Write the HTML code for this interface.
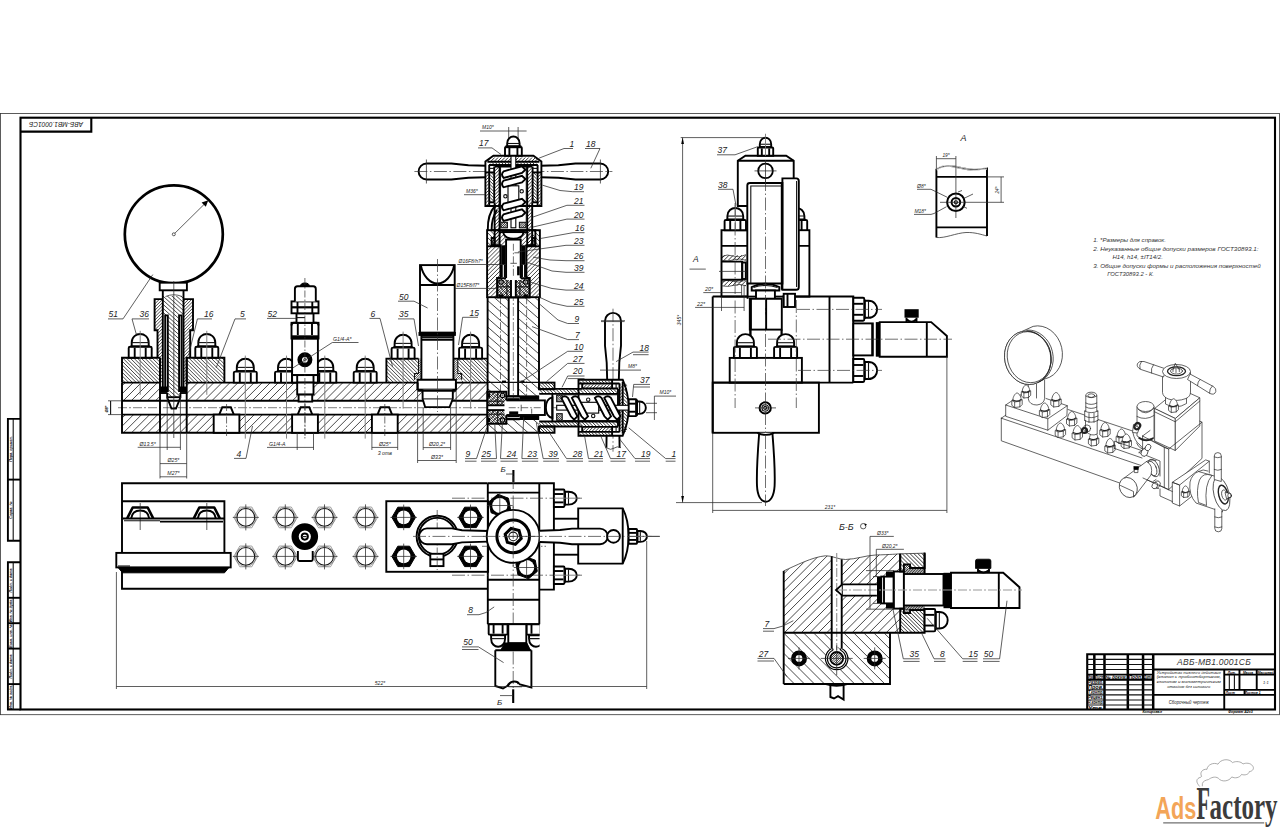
<!DOCTYPE html>
<html lang="ru"><head><meta charset="utf-8"><title>АВБ-МВ1.0001СБ Сборочный чертеж</title>
<style>
html,body{margin:0;padding:0;background:#fff;}
body{width:1280px;height:828px;overflow:hidden;font-family:"Liberation Sans",sans-serif;}
svg{display:block;position:absolute;left:0;top:0}
path,rect,circle,ellipse{fill:none;stroke:#000;stroke-linecap:butt;stroke-linejoin:miter}
.k2{stroke-width:2.1}
.k3{stroke-width:2.5}
.k{stroke-width:1.9}
.kr{stroke-width:1.9;stroke-linecap:round;stroke-linejoin:round}
.m{stroke-width:1.1;stroke:#111}
.t{stroke-width:0.75;stroke:#2a2a2a}
.tc{stroke-width:0.9;stroke:#777}
.t2{stroke-width:0.8;stroke:#333}
.tg2{stroke-width:0.6;stroke:#666}
.h{stroke-width:0.8;stroke:#1a1a1a}
.hd{stroke-width:0.85;stroke:#111}
.c{stroke-width:0.7;stroke:#333;stroke-dasharray:13 2.5 1.5 2.5}
.cg{stroke-width:1.2;stroke:#999;stroke-dasharray:9 2 2 2}
.cs{stroke-width:0.7;stroke:#333;stroke-dasharray:7 2 1.5 2}
.f{fill:#000;stroke:none}
.w{fill:#fff;stroke:none}
.kw{fill:#fff;stroke-width:1.9}
.mw{fill:#fff;stroke-width:1.1}
.tw{fill:#fff;stroke-width:0.6;stroke:#333}
.iso{stroke-width:0.7;stroke:#222;stroke-linejoin:round;stroke-linecap:round}
.isow{stroke-width:0.7;stroke:#222;fill:#fff;stroke-linejoin:round}
text{font-family:"Liberation Sans",sans-serif;font-style:italic;fill:#222;stroke:none}
.txb{fill:#000;font-weight:bold}
.tg{fill:#555}
.tn{fill:#333}
.tl{fill:#333;letter-spacing:.3px}
.lg{stroke:#8a8a8a;stroke-width:0.7}
.ul{stroke:#707070;stroke-width:1.2}
</style></head><body>
<svg width="1280" height="828" viewBox="0 0 1280 828">
<g id="frame">
<rect class="t2" x="0.4" y="113.4" width="1279.2" height="601.3"/>
<rect class="k2" x="20.5" y="117.7" width="1254.5" height="591.8"/>
<path class="k2" d="M20.5 131.6L91.3 131.6L91.3 117.7"/>
<text class="tx" x="56" y="127.2" font-size="7" text-anchor="middle" transform="rotate(180 56 124.7)" textLength="54" lengthAdjust="spacingAndGlyphs">АВБ-МВ1.0001СБ</text>
<path class="k" d="M20.5 418.9L7.9 418.9L7.9 540.7L20.5 540.7"/>
<path class="m" d="M13.2 418.9L13.2 540.7"/>
<path class="k" d="M7.9 479.6L20.5 479.6"/>
<path class="k" d="M20.5 562.3L7.9 562.3L7.9 709.5L20.5 709.5"/>
<path class="m" d="M13.2 562.3L13.2 709.5"/>
<path class="k" d="M7.9 597.8L20.5 597.8"/>
<path class="k" d="M7.9 623.2L20.5 623.2"/>
<path class="k" d="M7.9 648.6L20.5 648.6"/>
<path class="k" d="M7.9 684.1L20.5 684.1"/>
<text class="txb" x="12" y="449" font-size="3.6" text-anchor="middle" transform="rotate(-90 12 449)">Перв. примен.</text>
<text class="txb" x="12" y="510" font-size="3.6" text-anchor="middle" transform="rotate(-90 12 510)">Справ. №</text>
<text class="txb" x="12" y="580.5" font-size="3.6" text-anchor="middle" transform="rotate(-90 12 580.5)">Подп. и дата</text>
<text class="txb" x="12" y="610.5" font-size="3.6" text-anchor="middle" transform="rotate(-90 12 610.5)">Инв. № дубл.</text>
<text class="txb" x="12" y="636" font-size="3.6" text-anchor="middle" transform="rotate(-90 12 636)">Взам. инв. №</text>
<text class="txb" x="12" y="666.5" font-size="3.6" text-anchor="middle" transform="rotate(-90 12 666.5)">Подп. и дата</text>
<text class="txb" x="12" y="697" font-size="3.6" text-anchor="middle" transform="rotate(-90 12 697)">Инв. № подл.</text>
<path class="k2" d="M1087.22 709.5L1087.22 654.3L1275 654.3"/>
<path class="k3" d="M1094.33 654.3L1094.33 679.675"/>
<path class="k3" d="M1104.48 654.3L1104.48 679.675"/>
<path class="k3" d="M1127.82 654.3L1127.82 709.5"/>
<path class="k3" d="M1143.05 654.3L1143.05 709.5"/>
<path class="k3" d="M1153.2 654.3L1153.2 709.5"/>
<path class="k3" d="M1104.48 679.675L1104.48 709.5"/>
<path class="k" d="M1224.25 669.525L1224.25 709.5"/>
<path class="m" d="M1087.22 659.375L1153.2 659.375"/>
<path class="m" d="M1087.22 664.45L1153.2 664.45"/>
<path class="m" d="M1087.22 669.525L1153.2 669.525"/>
<path class="k" d="M1087.22 674.6L1153.2 674.6"/>
<path class="k" d="M1087.22 679.675L1153.2 679.675"/>
<path class="m" d="M1087.22 684.75L1153.2 684.75"/>
<path class="m" d="M1087.22 689.825L1153.2 689.825"/>
<path class="m" d="M1087.22 694.9L1153.2 694.9"/>
<path class="m" d="M1087.22 699.975L1153.2 699.975"/>
<path class="m" d="M1087.22 705.05L1153.2 705.05"/>
<path class="k" d="M1153.2 669.525L1275 669.525"/>
<path class="k" d="M1153.2 694.9L1275 694.9"/>
<path class="k" d="M1224.25 674.6L1275 674.6"/>
<path class="k" d="M1224.25 689.825L1275 689.825"/>
<path class="k" d="M1239.47 669.525L1239.47 689.825"/>
<path class="k" d="M1256.73 669.525L1256.73 689.825"/>
<path class="m" d="M1229.32 674.6L1229.32 689.825"/>
<path class="m" d="M1234.4 674.6L1234.4 689.825"/>
<path class="k" d="M1244.55 689.825L1244.55 694.9"/>
<text class="tl" x="1214.1" y="665.262" font-size="9.6" text-anchor="middle" textLength="74" lengthAdjust="spacingAndGlyphs">АВБ-МВ1.0001СБ</text>
<text class="tx" x="1188.72" y="673.889" font-size="4.4" text-anchor="middle" textLength="64" lengthAdjust="spacingAndGlyphs">Устройство нижнего действия</text>
<text class="tx" x="1188.72" y="678.254" font-size="4.4" text-anchor="middle" textLength="64" lengthAdjust="spacingAndGlyphs">(клапан с пробоотборником,</text>
<text class="tx" x="1188.72" y="682.618" font-size="4.4" text-anchor="middle" textLength="64" lengthAdjust="spacingAndGlyphs">клапаном и манометрическим</text>
<text class="tx" x="1188.72" y="687.795" font-size="4.4" text-anchor="middle" textLength="43" lengthAdjust="spacingAndGlyphs">отводом без силового</text>
<text class="tx" x="1188.72" y="703.832" font-size="4.6" text-anchor="middle" textLength="40" lengthAdjust="spacingAndGlyphs">Сборочный чертеж</text>
<text class="txb" x="1090.78" y="678.964" font-size="4.8" text-anchor="middle" textLength="6.2" lengthAdjust="spacingAndGlyphs">Изм.</text>
<text class="txb" x="1099.4" y="678.964" font-size="4.8" text-anchor="middle" textLength="9" lengthAdjust="spacingAndGlyphs">Лист</text>
<text class="txb" x="1116.15" y="678.964" font-size="4.8" text-anchor="middle" textLength="21" lengthAdjust="spacingAndGlyphs">№ докум.</text>
<text class="txb" x="1135.44" y="678.964" font-size="4.8" text-anchor="middle" textLength="13.5" lengthAdjust="spacingAndGlyphs">Подп.</text>
<text class="txb" x="1148.12" y="678.964" font-size="4.8" text-anchor="middle" textLength="9" lengthAdjust="spacingAndGlyphs">Дата</text>
<text class="txb" x="1088.04" y="684.141" font-size="5" text-anchor="start" textLength="15.5" lengthAdjust="spacingAndGlyphs">Разраб.</text>
<text class="txb" x="1088.04" y="689.216" font-size="5" text-anchor="start" textLength="15.5" lengthAdjust="spacingAndGlyphs">Пров.</text>
<text class="txb" x="1088.04" y="694.291" font-size="5" text-anchor="start" textLength="15.5" lengthAdjust="spacingAndGlyphs">Т.контр.</text>
<text class="txb" x="1088.04" y="699.366" font-size="5" text-anchor="start" textLength="15.5" lengthAdjust="spacingAndGlyphs">Реценз.</text>
<text class="txb" x="1088.04" y="704.441" font-size="5" text-anchor="start" textLength="15.5" lengthAdjust="spacingAndGlyphs">Н.контр.</text>
<text class="txb" x="1088.04" y="709.516" font-size="5" text-anchor="start" textLength="15.5" lengthAdjust="spacingAndGlyphs">Утв.</text>
<text class="txb" x="1231.86" y="673.585" font-size="3.3" text-anchor="middle">Лит.</text>
<text class="txb" x="1248.1" y="673.585" font-size="3.3" text-anchor="middle">Масса</text>
<text class="txb" x="1265.86" y="673.585" font-size="3.3" text-anchor="middle">Масштаб</text>
<text class="tx" x="1265.86" y="683.735" font-size="4" text-anchor="middle">1:1</text>
<text class="txb" x="1230.34" y="693.885" font-size="3.3" text-anchor="middle">Лист</text>
<text class="txb" x="1252.67" y="693.885" font-size="3.3" text-anchor="middle">Листов   1</text>
<text class="txb" x="1152.18" y="713.474" font-size="3.6" text-anchor="middle">Копировал</text>
<text class="txb" x="1240.49" y="713.474" font-size="3.6" text-anchor="middle">Формат А2х3</text>
</g>
<g id="v1">
<clipPath id="c1"><path clip-rule="evenodd" d="M122 382.6L487.6 382.6L487.6 400.8L122 400.8ZM160 382.6L186.7 382.6L186.7 400.8L160 400.8ZM297.2 382.6L313.5 382.6L313.5 400.8L297.2 400.8ZM417.6 382.6L455.9 382.6L455.9 390L452.8 390L452.8 400.8L422.6 400.8L422.6 390L417.6 390Z"/></clipPath>
<path class="h" clip-path="url(#c1)" d="M39.3 387.9L301.0 126.2M43.4 391.9L305.0 130.3M47.4 396.0L309.1 134.3M51.4 400.0L313.1 138.3M55.5 404.0L317.1 142.4M59.5 408.1L321.2 146.4M63.5 412.1L325.2 150.4M67.5 416.1L329.2 154.4M71.6 420.1L333.2 158.5M75.6 424.2L337.3 162.5M79.6 428.2L341.3 166.5M83.7 432.2L345.3 170.6M87.7 436.3L349.4 174.6M91.7 440.3L353.4 178.6M95.8 444.3L357.4 182.7M99.8 448.4L361.5 186.7M103.8 452.4L365.5 190.7M107.9 456.4L369.5 194.8M111.9 460.4L373.5 198.8M115.9 464.5L377.6 202.8M119.9 468.5L381.6 206.8M124.0 472.5L385.6 210.9M128.0 476.6L389.7 214.9M132.0 480.6L393.7 218.9M136.1 484.6L397.7 223.0M140.1 488.7L401.8 227.0M144.1 492.7L405.8 231.0M148.2 496.7L409.8 235.1M152.2 500.8L413.9 239.1M156.2 504.8L417.9 243.1M160.2 508.8L421.9 247.1M164.3 512.8L425.9 251.2M168.3 516.9L430.0 255.2M172.3 520.9L434.0 259.2M176.4 524.9L438.0 263.3M180.4 529.0L442.1 267.3M184.4 533.0L446.1 271.3M188.5 537.0L450.1 275.4M192.5 541.1L454.2 279.4M196.5 545.1L458.2 283.4M200.6 549.1L462.2 287.5M204.6 553.2L466.3 291.5M208.6 557.2L470.3 295.5M212.6 561.2L474.3 299.5M216.7 565.2L478.3 303.6M220.7 569.3L482.4 307.6M224.7 573.3L486.4 311.6M228.8 577.3L490.4 315.7M232.8 581.4L494.5 319.7M236.8 585.4L498.5 323.7M240.9 589.4L502.5 327.8M244.9 593.5L506.6 331.8M248.9 597.5L510.6 335.8M253.0 601.5L514.6 339.9M257.0 605.5L518.6 343.9M261.0 609.6L522.7 347.9M265.0 613.6L526.7 351.9M269.1 617.6L530.7 356.0M273.1 621.7L534.8 360.0M277.1 625.7L538.8 364.0M281.2 629.7L542.8 368.1M285.2 633.8L546.9 372.1M289.2 637.8L550.9 376.1M293.3 641.8L554.9 380.2M297.3 645.9L559.0 384.2M301.3 649.9L563.0 388.2M305.3 653.9L567.0 392.2"/>
<clipPath id="c2"><path clip-rule="evenodd" d="M122 414.6L487.6 414.6L487.6 432.8L122 432.8ZM213.7 414.6L239.4 414.6L239.4 432.8L213.7 432.8ZM292.1 414.6L317.9 414.6L317.9 432.8L292.1 432.8ZM371.9 414.6L397.7 414.6L397.7 432.8L371.9 432.8Z"/></clipPath>
<path class="h" clip-path="url(#c2)" d="M39.5 420.0L301.1 158.4M43.5 424.1L305.2 162.4M47.5 428.1L309.2 166.4M51.5 432.1L313.2 170.4M55.6 436.1L317.2 174.5M59.6 440.2L321.3 178.5M63.6 444.2L325.3 182.5M67.7 448.2L329.3 186.6M71.7 452.3L333.4 190.6M75.7 456.3L337.4 194.6M79.8 460.3L341.4 198.7M83.8 464.4L345.5 202.7M87.8 468.4L349.5 206.7M91.9 472.4L353.5 210.8M95.9 476.4L357.5 214.8M99.9 480.5L361.6 218.8M103.9 484.5L365.6 222.8M108.0 488.5L369.6 226.9M112.0 492.6L373.7 230.9M116.0 496.6L377.7 234.9M120.1 500.6L381.7 239.0M124.1 504.7L385.8 243.0M128.1 508.7L389.8 247.0M132.2 512.7L393.8 251.1M136.2 516.8L397.9 255.1M140.2 520.8L401.9 259.1M144.2 524.8L405.9 263.1M148.3 528.8L409.9 267.2M152.3 532.9L414.0 271.2M156.3 536.9L418.0 275.2M160.4 540.9L422.0 279.3M164.4 545.0L426.1 283.3M168.4 549.0L430.1 287.3M172.5 553.0L434.1 291.4M176.5 557.1L438.2 295.4M180.5 561.1L442.2 299.4M184.6 565.1L446.2 303.5M188.6 569.2L450.3 307.5M192.6 573.2L454.3 311.5M196.6 577.2L458.3 315.5M200.7 581.2L462.3 319.6M204.7 585.3L466.4 323.6M208.7 589.3L470.4 327.6M212.8 593.3L474.4 331.7M216.8 597.4L478.5 335.7M220.8 601.4L482.5 339.7M224.9 605.4L486.5 343.8M228.9 609.5L490.6 347.8M232.9 613.5L494.6 351.8M237.0 617.5L498.6 355.9M241.0 621.5L502.6 359.9M245.0 625.6L506.7 363.9M249.0 629.6L510.7 367.9M253.1 633.6L514.7 372.0M257.1 637.7L518.8 376.0M261.1 641.7L522.8 380.0M265.2 645.7L526.8 384.1M269.2 649.8L530.9 388.1M273.2 653.8L534.9 392.1M277.3 657.8L538.9 396.2M281.3 661.9L543.0 400.2M285.3 665.9L547.0 404.2M289.3 669.9L551.0 408.2M293.4 673.9L555.0 412.3M297.4 678.0L559.1 416.3M301.4 682.0L563.1 420.3M305.5 686.0L567.1 424.4"/>
<clipPath id="c3"><path clip-rule="evenodd" d="M122 357.8L160 357.8L160 382.6L122 382.6Z"/></clipPath>
<path class="h" clip-path="url(#c3)" d="M142.5 333.7L177.5 368.7M140.7 335.6L175.6 370.5M138.9 337.4L173.8 372.3M137.0 339.3L171.9 374.2M135.2 341.1L170.1 376.0M133.3 342.9L168.3 377.9M131.5 344.8L166.4 379.7M129.7 346.6L164.6 381.5M127.8 348.5L162.7 383.4M126.0 350.3L160.9 385.2M124.2 352.1L159.1 387.0M122.3 354.0L157.2 388.9M120.5 355.8L155.4 390.7M118.6 357.6L153.6 392.6M116.8 359.5L151.7 394.4M115.0 361.3L149.9 396.2M113.1 363.2L148.0 398.1M111.3 365.0L146.2 399.9M109.4 366.8L144.4 401.8M107.6 368.7L142.5 403.6M105.8 370.5L140.7 405.4"/>
<clipPath id="c4"><path clip-rule="evenodd" d="M186.7 357.8L224.4 357.8L224.4 382.6L186.7 382.6Z"/></clipPath>
<path class="h" clip-path="url(#c4)" d="M206.2 334.9L240.9 369.6M204.3 336.7L239.1 371.4M202.5 338.5L237.2 373.3M200.6 340.4L235.4 375.1M198.8 342.2L233.5 376.9M197.0 344.0L231.7 378.8M195.1 345.9L229.9 380.6M193.3 347.7L228.0 382.5M191.5 349.6L226.2 384.3M189.6 351.4L224.4 386.1M187.8 353.2L222.5 388.0M185.9 355.1L220.7 389.8M184.1 356.9L218.8 391.7M182.3 358.8L217.0 393.5M180.4 360.6L215.2 395.3M178.6 362.4L213.3 397.2M176.7 364.3L211.5 399.0M174.9 366.1L209.6 400.8M173.1 367.9L207.8 402.7M171.2 369.8L206.0 404.5M169.4 371.6L204.1 406.4"/>
<clipPath id="c5"><path clip-rule="evenodd" d="M386.4 358.6L418.5 358.6L418.5 373.5L414.5 373.5L414.5 382.6L386.4 382.6Z"/></clipPath>
<path class="h" clip-path="url(#c5)" d="M404.0 337.8L435.2 369.0M402.2 339.7L433.4 370.9M400.4 341.5L431.5 372.7M398.5 343.4L429.7 374.5M396.7 345.2L427.8 376.4M394.8 347.0L426.0 378.2M393.0 348.9L424.2 380.0M391.2 350.7L422.3 381.9M389.3 352.6L420.5 383.7M387.5 354.4L418.7 385.6M385.6 356.2L416.8 387.4M383.8 358.1L415.0 389.2M382.0 359.9L413.1 391.1M380.1 361.7L411.3 392.9M378.3 363.6L409.5 394.8M376.5 365.4L407.6 396.6M374.6 367.3L405.8 398.4M372.8 369.1L403.9 400.3M370.9 370.9L402.1 402.1"/>
<clipPath id="c6"><path clip-rule="evenodd" d="M457.8 358.6L487.6 358.6L487.6 382.6L461.6 382.6L461.6 373.5L457.8 373.5Z"/></clipPath>
<path class="h" clip-path="url(#c6)" d="M472.9 340.5L502.8 370.4M471.1 342.4L500.9 372.2M469.2 344.2L499.1 374.1M467.4 346.0L497.3 375.9M465.5 347.9L495.4 377.8M463.7 349.7L493.6 379.6M461.9 351.6L491.7 381.4M460.0 353.4L489.9 383.3M458.2 355.2L488.1 385.1M456.3 357.1L486.2 387.0M454.5 358.9L484.4 388.8M452.7 360.7L482.6 390.6M450.8 362.6L480.7 392.5M449.0 364.4L478.9 394.3M447.2 366.3L477.0 396.1M445.3 368.1L475.2 398.0M443.5 369.9L473.4 399.8M441.6 371.8L471.5 401.7"/>
<clipPath id="c7"><path clip-rule="evenodd" d="M418.5 358.6L421.4 358.6L421.4 379.8L414.5 379.8L414.5 373.5L418.5 373.5Z"/></clipPath>
<path class="h" clip-path="url(#c7)" d="M398.6 368.5L417.2 349.9M399.7 369.6L418.3 351.0M400.9 370.7L419.5 352.1M402.0 371.9L420.6 353.3M403.1 373.0L421.7 354.4M404.3 374.1L422.9 355.5M405.4 375.2L424.0 356.7M406.5 376.4L425.1 357.8M407.7 377.5L426.3 358.9M408.8 378.6L427.4 360.0M409.9 379.8L428.5 361.2M411.1 380.9L429.7 362.3M412.2 382.0L430.8 363.4M413.3 383.2L431.9 364.6M414.5 384.3L433.0 365.7M415.6 385.4L434.2 366.8M416.7 386.6L435.3 368.0M417.8 387.7L436.4 369.1M419.0 388.8L437.6 370.2"/>
<clipPath id="c8"><path clip-rule="evenodd" d="M453.4 358.6L457.8 358.6L457.8 373.5L461.6 373.5L461.6 379.8L453.4 379.8Z"/></clipPath>
<path class="h" clip-path="url(#c8)" d="M437.5 368.1L456.4 349.2M438.6 369.2L457.5 350.3M439.7 370.3L458.6 351.4M440.9 371.5L459.8 352.6M442.0 372.6L460.9 353.7M443.1 373.7L462.0 354.8M444.3 374.9L463.2 356.0M445.4 376.0L464.3 357.1M446.5 377.1L465.4 358.2M447.6 378.3L466.6 359.3M448.8 379.4L467.7 360.5M449.9 380.5L468.8 361.6M451.0 381.6L469.9 362.7M452.2 382.8L471.1 363.9M453.3 383.9L472.2 365.0M454.4 385.0L473.3 366.1M455.6 386.2L474.5 367.3M456.7 387.3L475.6 368.4M457.8 388.4L476.7 369.5"/>
<path class="cg" d="M118 407.7L640 407.7"/>
<path class="k" d="M487.6 432.8L122 432.8L122 382.6"/>
<path class="k" d="M122 400.8L487.6 400.8"/>
<path class="k" d="M122 414.6L487.6 414.6"/>
<path class="k" d="M122 382.6L160 382.6"/>
<path class="k" d="M186.7 382.6L417.6 382.6"/>
<path class="k" d="M455.9 382.6L487.6 382.6"/>
<rect class="kw" x="213.7" y="414.6" width="25.7" height="18.2"/>
<path class="k" d="M219.25 414.6L222.25 407.3L230.85 407.3L233.85 414.6"/>
<path class="cs" d="M226.55 404L226.55 438"/>
<rect class="kw" x="292.1" y="414.6" width="25.8" height="18.2"/>
<path class="k" d="M297.7 414.6L300.7 407.3L309.3 407.3L312.3 414.6"/>
<path class="cs" d="M305 404L305 438"/>
<rect class="kw" x="371.9" y="414.6" width="25.8" height="18.2"/>
<path class="k" d="M377.5 414.6L380.5 407.3L389.1 407.3L392.1 414.6"/>
<path class="cs" d="M384.8 404L384.8 438"/>
<path class="k" d="M122 382.6L122 357.8L160 357.8"/>
<path class="k" d="M160 357.8L160 382.6"/>
<path class="k" d="M186.7 382.6L186.7 357.8L224.4 357.8L224.4 382.6"/>
<path class="k" d="M386.4 382.6L386.4 358.6L418.5 358.6"/>
<path class="m" d="M418.5 358.6L418.5 373.5L414.5 373.5L414.5 379.8"/>
<path class="m" d="M457.8 358.6L457.8 373.5L461.6 373.5L461.6 379.8"/>
<path class="k" d="M453.4 358.6L487.6 358.6"/>
<g>
<path class="kw" d="M128.7 357.8V348Q128.7 346.8 130.2 346.8H150.2Q151.7 346.8 151.7 348V357.8Z"/>
<path class="k" d="M134.7 347.8L134.7 357.8"/>
<path class="k" d="M145.7 347.8L145.7 357.8"/>
<path class="kw" d="M131.7 346.8V342.6C131.7 336.8 136.2 334 140.2 334C144.2 334 148.7 336.8 148.7 342.6V346.8"/>
<path class="m" d="M131.7 342.6L148.7 342.6"/>
<path class="k" d="M130.7 346.2L149.7 346.2"/>
<path class="tc" d="M140.2 330.8L140.2 394.8"/>
</g>
<g>
<path class="kw" d="M195.3 357.8V348Q195.3 346.8 196.8 346.8H216.8Q218.3 346.8 218.3 348V357.8Z"/>
<path class="k" d="M201.3 347.8L201.3 357.8"/>
<path class="k" d="M212.3 347.8L212.3 357.8"/>
<path class="kw" d="M198.3 346.8V342.6C198.3 336.8 202.8 334 206.8 334C210.8 334 215.3 336.8 215.3 342.6V346.8"/>
<path class="m" d="M198.3 342.6L215.3 342.6"/>
<path class="k" d="M197.3 346.2L216.3 346.2"/>
<path class="tc" d="M206.8 330.8L206.8 394.8"/>
</g>
<g>
<path class="kw" d="M233.8 382.6V372.8Q233.8 371.6 235.3 371.6H255.3Q256.8 371.6 256.8 372.8V382.6Z"/>
<path class="k" d="M239.8 372.6L239.8 382.6"/>
<path class="k" d="M250.8 372.6L250.8 382.6"/>
<path class="kw" d="M236.8 371.6V367.4C236.8 361.6 241.3 358.8 245.3 358.8C249.3 358.8 253.8 361.6 253.8 367.4V371.6"/>
<path class="m" d="M236.8 367.4L253.8 367.4"/>
<path class="k" d="M235.8 371L254.8 371"/>
<path class="tc" d="M245.3 355.6L245.3 438.6"/>
</g>
<g>
<path class="kw" d="M275 382.6V372.8Q275 371.6 276.5 371.6H296.5Q298 371.6 298 372.8V382.6Z"/>
<path class="k" d="M281 372.6L281 382.6"/>
<path class="k" d="M292 372.6L292 382.6"/>
<path class="kw" d="M278 371.6V367.4C278 361.6 282.5 358.8 286.5 358.8C290.5 358.8 295 361.6 295 367.4V371.6"/>
<path class="m" d="M278 367.4L295 367.4"/>
<path class="k" d="M277 371L296 371"/>
<path class="tc" d="M286.5 355.6L286.5 438.6"/>
</g>
<g>
<path class="kw" d="M313.3 382.6V372.8Q313.3 371.6 314.8 371.6H334.8Q336.3 371.6 336.3 372.8V382.6Z"/>
<path class="k" d="M319.3 372.6L319.3 382.6"/>
<path class="k" d="M330.3 372.6L330.3 382.6"/>
<path class="kw" d="M316.3 371.6V367.4C316.3 361.6 320.8 358.8 324.8 358.8C328.8 358.8 333.3 361.6 333.3 367.4V371.6"/>
<path class="m" d="M316.3 367.4L333.3 367.4"/>
<path class="k" d="M315.3 371L334.3 371"/>
<path class="tc" d="M324.8 355.6L324.8 438.6"/>
</g>
<g>
<path class="kw" d="M353.7 382.6V372.8Q353.7 371.6 355.2 371.6H375.2Q376.7 371.6 376.7 372.8V382.6Z"/>
<path class="k" d="M359.7 372.6L359.7 382.6"/>
<path class="k" d="M370.7 372.6L370.7 382.6"/>
<path class="kw" d="M356.7 371.6V367.4C356.7 361.6 361.2 358.8 365.2 358.8C369.2 358.8 373.7 361.6 373.7 367.4V371.6"/>
<path class="m" d="M356.7 367.4L373.7 367.4"/>
<path class="k" d="M355.7 371L374.7 371"/>
<path class="tc" d="M365.2 355.6L365.2 438.6"/>
</g>
<g>
<path class="kw" d="M391.6 358.6V348.8Q391.6 347.6 393.1 347.6H413.1Q414.6 347.6 414.6 348.8V358.6Z"/>
<path class="k" d="M397.6 348.6L397.6 358.6"/>
<path class="k" d="M408.6 348.6L408.6 358.6"/>
<path class="kw" d="M394.6 347.6V343.4C394.6 337.6 399.1 334.8 403.1 334.8C407.1 334.8 411.6 337.6 411.6 343.4V347.6"/>
<path class="m" d="M394.6 343.4L411.6 343.4"/>
<path class="k" d="M393.6 347L412.6 347"/>
<path class="tc" d="M403.1 331.6L403.1 408.6"/>
</g>
<g>
<path class="kw" d="M459.1 358.6V348.8Q459.1 347.6 460.6 347.6H480.6Q482.1 347.6 482.1 348.8V358.6Z"/>
<path class="k" d="M465.1 348.6L465.1 358.6"/>
<path class="k" d="M476.1 348.6L476.1 358.6"/>
<path class="kw" d="M462.1 347.6V343.4C462.1 337.6 466.6 334.8 470.6 334.8C474.6 334.8 479.1 337.6 479.1 343.4V347.6"/>
<path class="m" d="M462.1 343.4L479.1 343.4"/>
<path class="k" d="M461.1 347L480.1 347"/>
<path class="tc" d="M470.6 331.6L470.6 408.6"/>
</g>
<circle class="k" style="stroke-width:2.7" cx="173.8" cy="234.3" r="49"/>
<circle class="t" cx="173.8" cy="234.3" r="1.5"/>
<path class="t" d="M174.8 233.3L205 203.5"/>
<path class="f" d="M208.3 200.2L205.8 206.8L201.6 202.4Z"/>
<rect class="kw" x="159.7" y="282.7" width="27.2" height="7.6"/>
<clipPath id="c9"><path clip-rule="evenodd" d="M154.6 299.1L162.8 299.1L162.8 384L160 384L160 357.8L157.5 357.8L157.5 330.2L154.6 330.2Z"/></clipPath>
<path class="h" clip-path="url(#c9)" d="M94.9 340.9L158.1 277.8M96.6 342.6L159.7 279.4M98.2 344.2L161.3 281.0M99.8 345.8L163.0 282.7M101.4 347.4L164.6 284.3M103.1 349.1L166.2 285.9M104.7 350.7L167.8 287.5M106.3 352.3L169.5 289.2M107.9 353.9L171.1 290.8M109.6 355.6L172.7 292.4M111.2 357.2L174.3 294.0M112.8 358.8L176.0 295.7M114.5 360.4L177.6 297.3M116.1 362.1L179.2 298.9M117.7 363.7L180.8 300.6M119.3 365.3L182.5 302.2M121.0 366.9L184.1 303.8M122.6 368.6L185.7 305.4M124.2 370.2L187.4 307.1M125.8 371.8L189.0 308.7M127.5 373.5L190.6 310.3M129.1 375.1L192.2 311.9M130.7 376.7L193.9 313.6M132.3 378.3L195.5 315.2M134.0 380.0L197.1 316.8M135.6 381.6L198.7 318.4M137.2 383.2L200.4 320.1M138.8 384.8L202.0 321.7M140.5 386.5L203.6 323.3M142.1 388.1L205.2 324.9M143.7 389.7L206.9 326.6M145.4 391.3L208.5 328.2M147.0 393.0L210.1 329.8M148.6 394.6L211.7 331.5M150.2 396.2L213.4 333.1M151.9 397.8L215.0 334.7M153.5 399.5L216.6 336.3M155.1 401.1L218.3 338.0M156.7 402.7L219.9 339.6M158.4 404.4L221.5 341.2M160.0 406.0L223.1 342.8"/>
<clipPath id="c10"><path clip-rule="evenodd" d="M193 299.1L183.5 299.1L183.5 384L186.7 384L186.7 357.8L190.2 357.8L190.2 330.2L193 330.2Z"/></clipPath>
<path class="h" clip-path="url(#c10)" d="M124.3 340.8L187.5 277.6M125.9 342.5L189.2 279.2M127.6 344.1L190.8 280.9M129.2 345.7L192.4 282.5M130.8 347.3L194.0 284.1M132.4 349.0L195.7 285.7M134.1 350.6L197.3 287.4M135.7 352.2L198.9 289.0M137.3 353.8L200.5 290.6M138.9 355.5L202.2 292.2M140.6 357.1L203.8 293.9M142.2 358.7L205.4 295.5M143.8 360.4L207.1 297.1M145.4 362.0L208.7 298.7M147.1 363.6L210.3 300.4M148.7 365.2L211.9 302.0M150.3 366.9L213.6 303.6M151.9 368.5L215.2 305.2M153.6 370.1L216.8 306.9M155.2 371.7L218.4 308.5M156.8 373.4L220.1 310.1M158.5 375.0L221.7 311.8M160.1 376.6L223.3 313.4M161.7 378.2L224.9 315.0M163.3 379.9L226.6 316.6M165.0 381.5L228.2 318.3M166.6 383.1L229.8 319.9M168.2 384.7L231.4 321.5M169.8 386.4L233.1 323.1M171.5 388.0L234.7 324.8M173.1 389.6L236.3 326.4M174.7 391.3L238.0 328.0M176.3 392.9L239.6 329.6M178.0 394.5L241.2 331.3M179.6 396.1L242.8 332.9M181.2 397.8L244.5 334.5M182.8 399.4L246.1 336.1M184.5 401.0L247.7 337.8M186.1 402.6L249.3 339.4M187.7 404.3L251.0 341.0M189.4 405.9L252.6 342.7"/>
<clipPath id="c11"><path clip-rule="evenodd" d="M162.8 296L183.5 296L183.5 315.4L179.1 315.4L179.1 393L180.4 397L167.2 397L167.8 393L167.8 315.4L162.8 315.4Z"/></clipPath>
<path class="h" clip-path="url(#c11)" d="M169.9 270.1L249.5 341.7M167.9 272.3L247.5 344.0M165.9 274.5L245.5 346.2M163.9 276.8L243.5 348.4M161.9 279.0L241.5 350.6M159.9 281.2L239.5 352.9M157.9 283.4L237.5 355.1M155.9 285.7L235.5 357.3M153.9 287.9L233.4 359.6M151.8 290.1L231.4 361.8M149.8 292.4L229.4 364.0M147.8 294.6L227.4 366.3M145.8 296.8L225.4 368.5M143.8 299.0L223.4 370.7M141.8 301.3L221.4 372.9M139.8 303.5L219.4 375.2M137.8 305.7L217.4 377.4M135.8 308.0L215.4 379.6M133.8 310.2L213.4 381.9M131.8 312.4L211.4 384.1M129.8 314.7L209.4 386.3M127.8 316.9L207.4 388.5M125.8 319.1L205.3 390.8M123.7 321.3L203.3 393.0M121.7 323.6L201.3 395.2M119.7 325.8L199.3 397.5M117.7 328.0L197.3 399.7M115.7 330.3L195.3 401.9M113.7 332.5L193.3 404.2M111.7 334.7L191.3 406.4M109.7 336.9L189.3 408.6M107.7 339.2L187.3 410.8M105.7 341.4L185.3 413.1M103.7 343.6L183.3 415.3M101.7 345.9L181.3 417.5M99.7 348.1L179.2 419.8M97.6 350.3L177.2 422.0M95.6 352.6L175.2 424.2"/>
<path class="k" d="M162.8 290.3L162.8 392"/>
<path class="k" d="M183.5 290.3L183.5 392"/>
<path class="k" d="M165.2 392L165.2 315.4L167.8 315.4L167.8 392"/>
<path class="k" d="M179.1 392L179.1 315.4L181.6 315.4L181.6 392"/>
<path class="k" d="M162.8 299.1L154.6 299.1L154.6 330.2L157.5 330.2L157.5 357.8"/>
<path class="k" d="M183.5 299.1L193 299.1L193 330.2L190.2 330.2L190.2 357.8"/>
<path class="k" d="M160 357.8L160 432.8"/>
<path class="k" d="M186.7 357.8L186.7 432.8"/>
<path class="t" d="M165.5 296.5Q173.8 293 182 296.5"/>
<rect class="f" x="160.3" y="386.5" width="7.2" height="5.5"/>
<rect class="f" x="180" y="386.5" width="6.5" height="5.5"/>
<path class="k" d="M160 393L167.5 393"/>
<path class="k" d="M180 393L186.7 393"/>
<path class="k" d="M167.2 393L167.2 397.5L171.5 408.5L176 408.5L180.4 397.5L180.4 393"/>
<path class="k" d="M167.2 397.2L180.4 397.2"/>
<path class="t" d="M173.8 281L173.8 438"/>
<path class="t" d="M167.2 397L167.2 450"/>
<path class="t" d="M180.4 397L180.4 450"/>
<path class="t" d="M160 432.8L160 478.5"/>
<path class="t" d="M186.7 432.8L186.7 478.5"/>
<path class="t" d="M137.7 447.3L180.4 447.3"/>
<text class="tx" x="139.5" y="445.5" font-size="5.2" text-anchor="start">Ø13.5*</text>
<path class="t" d="M160 463.6L186.7 463.6"/>
<text class="tx" x="173.4" y="461.8" font-size="5.2" text-anchor="middle">Ø25*</text>
<path class="t" d="M160 476.8L186.7 476.8"/>
<text class="tx" x="173.4" y="475" font-size="5.2" text-anchor="middle">M27*</text>
<path class="t" d="M108 400.8L122 400.8"/>
<path class="t" d="M108 414.6L122 414.6"/>
<path class="m" d="M110.6 401L110.6 414.6"/>
<text class="txb" x="107.6" y="412.5" font-size="4" text-anchor="start" transform="rotate(-90 107.6 412.5)">Ø8*</text>
<rect class="kw" x="292.1" y="338.5" width="25.8" height="36.6"/>
<rect class="kw" x="291.5" y="322.8" width="27" height="15.7"/>
<rect class="f" x="291.5" y="335.3" width="27" height="3.2"/>
<path class="k" d="M297.8 324L297.8 335"/>
<path class="k" d="M312 324L312 335"/>
<path class="k" d="M291.5 325.5Q291.5 322.8 294 322.8H316Q318.5 322.8 318.5 325.5"/>
<rect class="kw" x="296.5" y="313.3" width="17" height="9.5"/>
<path class="m" d="M296.5 317.6L304.9 317.6"/>
<rect class="kw" x="291.5" y="301.4" width="27" height="11.9"/>
<path class="k" style="stroke-width:2.2" d="M291.5 307.3L318.5 307.3"/>
<path class="k" d="M297.5 301.4L297.5 313.3"/>
<path class="k" d="M312.3 301.4L312.3 313.3"/>
<path class="kw" d="M294.9 301.4V289Q294.9 286.2 297.5 286.2H313.2Q315.8 286.2 315.8 289V301.4"/>
<path class="f" style="stroke:#000;stroke-width:1" d="M300.5 286.2Q300.5 283 304.9 283Q309.3 283 309.3 286.2Z"/>
<rect class="kw" x="292.1" y="375.1" width="25.8" height="7.5"/>
<path class="k" d="M297.2 375.1L297.2 382.6"/>
<path class="k" d="M313.5 375.1L313.5 382.6"/>
<rect class="kw" x="297.2" y="382.6" width="16.3" height="12"/>
<rect class="kw" x="298.6" y="394.6" width="13.6" height="7"/>
<circle class="k" style="stroke-width:4.6" cx="304.9" cy="359.8" r="5.2"/>
<circle class="t" cx="304.9" cy="359.8" r="1.3"/>
<path class="cs" d="M304.9 278L304.9 440"/>
<path class="t" d="M297.2 432.8L297.2 450"/>
<path class="t" d="M313.5 432.8L313.5 450"/>
<path class="t" d="M267 447.4L313.5 447.4"/>
<text class="tx" x="269" y="445.6" font-size="5.2" text-anchor="start">G1/4-A</text>
<path class="t" d="M371.9 432.8L371.9 450"/>
<path class="t" d="M397.7 432.8L397.7 450"/>
<path class="t" d="M371.9 447.4L397.7 447.4"/>
<text class="tx" x="384.8" y="445.6" font-size="5.2" text-anchor="middle">Ø25*</text>
<text class="tx" x="384.8" y="454.5" font-size="5.2" text-anchor="middle">3 отв</text>
<text class="tx" x="333" y="340.9" font-size="5.2" text-anchor="start">G1/4-A*</text>
<path class="t" d="M332.3 342.5L358.5 342.5"/>
<path class="t" d="M332.3 342.5L292.8 368"/>
<text class="tx" x="108.5" y="317.3" font-size="8.5" text-anchor="start">51</text>
<path class="t" d="M108 318.9L123 318.9"/>
<path class="t" d="M123 318.9L152.8 274.6"/>
<text class="tx" x="139.5" y="317.3" font-size="8.5" text-anchor="start">36</text>
<path class="t" d="M132 318.9L149 318.9"/>
<path class="t" d="M132 318.9L136.5 335"/>
<text class="tx" x="204" y="317.3" font-size="8.5" text-anchor="start">16</text>
<path class="t" d="M197.4 318.9L212 318.9"/>
<path class="t" d="M197.4 318.9L188.6 355.3"/>
<text class="tx" x="240" y="317.3" font-size="8.5" text-anchor="start">5</text>
<path class="t" d="M235 318.9L246 318.9"/>
<path class="t" d="M235 318.9L216.2 367.8"/>
<text class="tx" x="267.5" y="316.8" font-size="8.5" text-anchor="start">52</text>
<path class="t" d="M267 318.4L296.5 318.4"/>
<text class="tx" x="370.5" y="316.8" font-size="8.5" text-anchor="start">6</text>
<path class="t" d="M369.5 318.4L380 318.4"/>
<path class="t" d="M380 318.4L392.6 366.7"/>
<text class="tx" x="236.5" y="456.8" font-size="8.5" text-anchor="start">4</text>
<path class="t" d="M234 458.4L246 458.4"/>
<path class="t" d="M246 458.4L252.5 426"/>
<rect class="kw" x="420" y="265.1" width="34.7" height="67.5"/>
<path class="k" d="M420 285L454.7 285"/>
<path class="k" d="M421 266C423 276 430 283.5 437.5 283.5C445 283.5 452 276 454 266"/>
<rect class="f" x="418.5" y="332" width="37.4" height="3.9"/>
<rect class="kw" x="421.4" y="335.9" width="32" height="43.9"/>
<path class="m" d="M421.4 337.6L453.4 337.6"/>
<path class="k" d="M421.4 339.8L453.4 339.8"/>
<rect class="kw" x="417.6" y="379.8" width="38.3" height="9.8"/>
<path class="kw" d="M422.6 389.6V398.9L425.1 407.1H449.6L452.8 398.9V389.6"/>
<path class="k" style="stroke-width:2.4" d="M417.6 390.6L455.9 390.6"/>
<path class="m" d="M422.6 398.9L452.8 398.9"/>
<path class="k" d="M417.6 382.6L417.6 389.6"/>
<path class="k" d="M455.9 382.6L455.9 389.6"/>
<path class="c" d="M437.5 259L437.5 412"/>
<path class="t" d="M423.2 408L423.2 450"/>
<path class="t" d="M450.6 408L450.6 450"/>
<path class="t" d="M423.2 447.6L450.6 447.6"/>
<text class="tx" x="437" y="445.8" font-size="5.2" text-anchor="middle">Ø20,2*</text>
<path class="t" d="M417.6 391L417.6 463"/>
<path class="t" d="M456.2 391L456.2 463"/>
<path class="t" d="M417.6 460.5L456.2 460.5"/>
<text class="tx" x="437" y="458.7" font-size="5.2" text-anchor="middle">Ø33*</text>
<clipPath id="c12"><path clip-rule="evenodd" d="M487.6 297.2L539 297.2L539 432.8L487.6 432.8ZM508.7 297.2L518.1 297.2L518.1 397L508.7 397ZM488.6 393.2L502 393.2L502 396.6L539 396.6L539 419L502 419L502 422.8L488.6 422.8Z"/></clipPath>
<path class="h" clip-path="url(#c12)" d="M508.5 257.0L620.9 354.7M504.1 262.0L616.6 359.8M499.8 267.0L612.2 364.8M495.4 272.0L607.9 369.8M491.0 277.1L603.5 374.8M486.7 282.1L599.1 379.8M482.3 287.1L594.8 384.9M477.9 292.1L590.4 389.9M473.6 297.1L586.0 394.9M469.2 302.1L581.7 399.9M464.9 307.2L577.3 404.9M460.5 312.2L573.0 409.9M456.1 317.2L568.6 415.0M451.8 322.2L564.2 420.0M447.4 327.2L559.9 425.0M443.0 332.3L555.5 430.0M438.7 337.3L551.1 435.0M434.3 342.3L546.8 440.1M429.9 347.3L542.4 445.1M425.6 352.3L538.0 450.1M421.2 357.4L533.7 455.1M416.9 362.4L529.3 460.1M412.5 367.4L525.0 465.2M408.1 372.4L520.6 470.2"/>
<path class="k" d="M539 297.2L539 389.3"/>
<path class="k" d="M487.6 297.2L487.6 432.8L539 432.8L539 426.5"/>
<path class="k" d="M508.7 297.2L508.7 397"/>
<path class="k" d="M518.1 297.2L518.1 397"/>
<path class="cg" d="M513.4 292L513.4 398"/>
<path class="cs" d="M500.5 297.2L500.5 393"/>
<path class="cs" d="M526.6 297.2L526.6 396"/>
<path class="m" d="M487.6 382.4L539 382.4"/>
<rect class="f" x="502" y="380.6" width="4" height="1.8"/>
<rect class="f" x="520.5" y="380.6" width="4" height="1.8"/>
<path class="k" d="M488.6 393.2L502 393.2L502 396.6L539 396.6"/>
<path class="k" d="M488.6 422.8L502 422.8L502 419L539 419"/>
<clipPath id="c13"><path clip-rule="evenodd" d="M539 382.6L554.5 382.6L554.5 389.3L539 389.3Z"/></clipPath>
<path class="hd" clip-path="url(#c13)" d="M547.6 370.3L562.4 385.1M546.1 371.9L560.8 386.6M544.5 373.4L559.3 388.2M543.0 375.0L557.7 389.7M541.4 376.5L556.2 391.3M539.9 378.1L554.6 392.8M538.3 379.6L553.1 394.4M536.7 381.2L551.5 396.0M535.2 382.7L550.0 397.5M533.6 384.3L548.4 399.1M532.1 385.9L546.8 400.6M530.5 387.4L545.3 402.2"/>
<rect class="k" x="539" y="382.6" width="15.5" height="6.7"/>
<clipPath id="c14"><path clip-rule="evenodd" d="M539 426.5L554.5 426.5L554.5 432.8L539 432.8Z"/></clipPath>
<path class="hd" clip-path="url(#c14)" d="M547.8 414.0L562.4 428.6M546.2 415.5L560.9 430.2M544.7 417.1L559.3 431.7M543.1 418.6L557.8 433.3M541.5 420.2L556.2 434.9M540.0 421.8L554.6 436.4M538.4 423.3L553.1 438.0M536.9 424.9L551.5 439.5M535.3 426.4L550.0 441.1M533.8 428.0L548.4 442.6M532.2 429.5L546.9 444.2M530.7 431.1L545.3 445.7"/>
<rect class="k" x="539" y="426.5" width="15.5" height="6.3"/>
<clipPath id="c15"><path clip-rule="evenodd" d="M487.1 246.3L539.9 246.3L539.9 297.2L487.1 297.2ZM491.6 230.2L535.4 230.2L535.4 245.3L526.4 245.3L526.4 278L529.6 278L529.6 297.2L497.2 297.2L497.2 278L500.4 278L500.4 245.3L491.6 245.3Z"/></clipPath>
<path class="h" clip-path="url(#c15)" d="M458.5 271.5L513.2 216.8M460.6 273.5L515.3 218.8M462.6 275.6L517.3 220.9M464.7 277.6L519.4 222.9M466.7 279.7L521.4 225.0M468.8 281.7L523.5 227.0M470.8 283.8L525.5 229.1M472.9 285.8L527.6 231.1M474.9 287.9L529.6 233.2M477.0 289.9L531.7 235.2M479.0 292.0L533.7 237.3M481.1 294.0L535.8 239.3M483.1 296.1L537.8 241.4M485.2 298.1L539.9 243.4M487.2 300.2L541.9 245.5M489.3 302.2L544.0 247.5M491.3 304.3L546.0 249.6M493.4 306.3L548.1 251.7M495.5 308.4L550.1 253.7M497.5 310.4L552.2 255.8M499.6 312.5L554.2 257.8M501.6 314.5L556.3 259.9M503.7 316.6L558.3 261.9M505.7 318.6L560.4 264.0M507.8 320.7L562.4 266.0M509.8 322.7L564.5 268.1M511.9 324.8L566.5 270.1M513.9 326.8L568.6 272.2"/>
<clipPath id="c16"><path clip-rule="evenodd" d="M487.1 230.2L494.5 230.2L494.5 246.3L487.1 246.3Z"/></clipPath>
<path class="h" clip-path="url(#c16)" d="M491.5 222.2L506.8 237.6M489.1 224.6L504.4 240.0M486.7 227.0L502.0 242.4M484.3 229.4L499.6 244.8M481.9 231.8L497.2 247.2M479.5 234.2L494.8 249.6M477.1 236.6L492.4 252.0M474.7 239.0L490.0 254.4"/>
<clipPath id="c17"><path clip-rule="evenodd" d="M532.3 230.2L539.9 230.2L539.9 246.3L532.3 246.3Z"/></clipPath>
<path class="h" clip-path="url(#c17)" d="M538.1 220.8L553.6 236.2M535.7 223.2L551.2 238.6M533.3 225.6L548.8 241.0M530.9 228.0L546.3 243.4M528.5 230.4L543.9 245.8M526.1 232.8L541.5 248.2M523.7 235.2L539.1 250.6M521.3 237.6L536.7 253.0M518.9 240.0L534.3 255.4"/>
<path class="k" d="M487.1 246.3L500.4 246.3"/>
<path class="k" d="M526.4 246.3L539.9 246.3"/>
<rect class="k" x="487.1" y="230.2" width="52.8" height="67"/>
<path class="k" d="M491.6 230.2L535.4 230.2L535.4 245.3L526.4 245.3L526.4 278L529.6 278L529.6 297.2L497.2 297.2L497.2 278L500.4 278L500.4 245.3L491.6 245.3"/>
<clipPath id="c18"><path clip-rule="evenodd" d="M491.6 238L494.6 238L494.6 245.3L491.6 245.3Z"/></clipPath>
<path class="hd" clip-path="url(#c18)" d="M484.3 241.2L492.7 232.8M485.6 242.6L494.0 234.2M487.0 243.9L495.4 235.5M488.3 245.3L496.7 236.8M489.6 246.6L498.0 238.2M491.0 247.9L499.4 239.5M492.3 249.3L500.7 240.9M493.7 250.6L502.1 242.2"/>
<rect class="k" x="491.6" y="238" width="3" height="7.3"/>
<clipPath id="c19"><path clip-rule="evenodd" d="M532.2 238L535.2 238L535.2 245.3L532.2 245.3Z"/></clipPath>
<path class="hd" clip-path="url(#c19)" d="M524.7 241.1L533.1 232.7M526.1 242.4L534.5 234.0M527.4 243.8L535.8 235.4M528.7 245.1L537.2 236.7M530.1 246.5L538.5 238.0M531.4 247.8L539.8 239.4M532.8 249.1L541.2 240.7M534.1 250.5L542.5 242.1"/>
<rect class="k" x="532.2" y="238" width="3" height="7.3"/>
<path class="k" d="M495 206Q487.5 214 487.8 230M497 210Q491.5 218 491.6 230"/>
<g transform="translate(513.4 155.8) rotate(0)">
<path class="kw" d="M-27 9.9L-45 9.4L-62 7.7L-86.8 7.7A8 8 0 0 0 -86.8 23.7L-62 23.7L-45 22L-27 21.5"/>
<path class="t" d="M-87 3.7L-87 27.7"/>
<path class="kw" d="M27 9.9L45 9.4L62 7.7L86.8 7.7A8 8 0 0 1 86.8 23.7L62 23.7L45 22L27 21.5"/>
<path class="t" d="M87 3.7L87 27.7"/>
<path class="c" d="M-99 15.7L99 15.7"/>
<path class="kw" d="M-28 50.2V5.7L-20 0H20L28 5.7V50.2Z"/>
<clipPath id="c20"><path clip-rule="evenodd" d="M-23 1.6L23 1.6L26 5.4L-26 5.4ZM-2.6 0L2.6 0L2.6 7L-2.6 7Z"/></clipPath>
<path class="hd" clip-path="url(#c20)" d="M-40.3 2.9L-0.6 -36.8M-38.6 4.6L1.1 -35.1M-36.9 6.3L2.8 -33.4M-35.2 8.0L4.5 -31.7M-33.5 9.7L6.2 -30.0M-31.8 11.4L7.9 -28.3M-30.1 13.1L9.6 -26.6M-28.4 14.8L11.3 -24.9M-26.7 16.5L13.0 -23.2M-25.0 18.2L14.7 -21.5M-23.3 19.9L16.4 -19.8M-21.6 21.6L18.1 -18.1M-19.9 23.3L19.8 -16.4M-18.2 25.0L21.5 -14.7M-16.5 26.7L23.2 -13.0M-14.8 28.4L24.9 -11.3M-13.1 30.1L26.6 -9.6M-11.4 31.8L28.3 -7.9M-9.7 33.5L30.0 -6.2M-8.0 35.2L31.7 -4.5M-6.3 36.9L33.4 -2.8M-4.6 38.6L35.1 -1.1M-2.9 40.3L36.8 0.6M-1.2 42.0L38.5 2.3M0.5 43.7L40.2 4.0"/>
<path class="k" d="M-26 6L26 6"/>
<path class="k" d="M-24.5 9.2L24.5 9.2"/>
<clipPath id="c21"><path clip-rule="evenodd" d="M-23 6.5L23 6.5L23 8.7L-23 8.7ZM-2.6 0L2.6 0L2.6 9L-2.6 9Z"/></clipPath>
<path class="hd" clip-path="url(#c21)" d="M0.1 -27.9L35.5 7.5M-1.5 -26.3L33.9 9.1M-3.0 -24.8L32.4 10.6M-4.6 -23.2L30.8 12.2M-6.1 -21.7L29.3 13.7M-7.7 -20.1L27.7 15.3M-9.2 -18.6L26.2 16.8M-10.8 -17.0L24.6 18.4M-12.3 -15.5L23.1 19.9M-13.9 -13.9L21.5 21.5M-15.5 -12.3L19.9 23.1M-17.0 -10.8L18.4 24.6M-18.6 -9.2L16.8 26.2M-20.1 -7.7L15.3 27.7M-21.7 -6.1L13.7 29.3M-23.2 -4.6L12.2 30.8M-24.8 -3.0L10.6 32.4M-26.3 -1.5L9.1 33.9M-27.9 0.1L7.5 35.5M-29.5 1.7L5.9 37.1M-31.0 3.2L4.4 38.6M-32.6 4.8L2.8 40.2M-34.1 6.3L1.3 41.7M-35.7 7.9L-0.3 43.3"/>
<clipPath id="c22"><path clip-rule="evenodd" d="M-27.2 17L-24.6 17L-24.6 49L-27.2 49Z"/></clipPath>
<path class="hd" clip-path="url(#c22)" d="M-52.0 32.5L-26.4 6.9M-50.3 34.1L-24.8 8.6M-48.7 35.7L-23.2 10.2M-47.1 37.3L-21.6 11.8M-45.5 39.0L-19.9 13.4M-43.8 40.6L-18.3 15.1M-42.2 42.2L-16.7 16.7M-40.6 43.8L-15.1 18.3M-39.0 45.5L-13.4 19.9M-37.3 47.1L-11.8 21.6M-35.7 48.7L-10.2 23.2M-34.1 50.3L-8.6 24.8M-32.5 52.0L-6.9 26.4M-30.8 53.6L-5.3 28.1M-29.2 55.2L-3.7 29.7M-27.6 56.9L-2.0 31.3M-26.0 58.5L-0.4 32.9M-24.3 60.1L1.2 34.6"/>
<path class="k" d="M-24.2 9.2L-24.2 50.2"/>
<clipPath id="c23"><path clip-rule="evenodd" d="M-23.2 17L-19.6 17L-19.6 46.5L-23.2 46.5Z"/></clipPath>
<path class="hd" clip-path="url(#c23)" d="M-21.4 7.9L2.5 31.7M-23.0 9.5L0.8 33.4M-24.6 11.1L-0.8 35.0M-26.3 12.8L-2.4 36.6M-27.9 14.4L-4.0 38.2M-29.5 16.0L-5.7 39.9M-31.1 17.6L-7.3 41.5M-32.8 19.3L-8.9 43.1M-34.4 20.9L-10.6 44.7M-36.0 22.5L-12.2 46.4M-37.6 24.2L-13.8 48.0M-39.3 25.8L-15.4 49.6M-40.9 27.4L-17.1 51.2M-42.5 29.0L-18.7 52.9M-44.2 30.7L-20.3 54.5M-45.8 32.3L-21.9 56.1"/>
<path class="k" d="M-19.2 10.7L-19.2 46.5"/>
<path class="k" d="M-19.2 46.5L-24.2 46.5"/>
<path class="k" d="M-19.2 16.6L-28 16.6"/>
<path class="m" d="M-19.2 12.6L-24.2 12.6"/>
<clipPath id="c24"><path clip-rule="evenodd" d="M24.6 17L27.2 17L27.2 49L24.6 49Z"/></clipPath>
<path class="hd" clip-path="url(#c24)" d="M-0.1 32.6L25.5 7.0M1.6 34.2L27.1 8.7M3.2 35.8L28.7 10.3M4.8 37.5L30.4 11.9M6.5 39.1L32.0 13.6M8.1 40.7L33.6 15.2M9.7 42.3L35.2 16.8M11.3 44.0L36.9 18.4M13.0 45.6L38.5 20.1M14.6 47.2L40.1 21.7M16.2 48.8L41.7 23.3M17.8 50.5L43.4 24.9M19.5 52.1L45.0 26.6M21.1 53.7L46.6 28.2M22.7 55.3L48.2 29.8M24.3 57.0L49.9 31.4M26.0 58.6L51.5 33.1"/>
<path class="k" d="M24.2 9.2L24.2 50.2"/>
<clipPath id="c25"><path clip-rule="evenodd" d="M19.6 17L23.2 17L23.2 46.5L19.6 46.5Z"/></clipPath>
<path class="hd" clip-path="url(#c25)" d="M22.8 6.5L46.6 30.4M21.2 8.1L45.0 32.0M19.5 9.8L43.4 33.6M17.9 11.4L41.7 35.2M16.3 13.0L40.1 36.9M14.7 14.7L38.5 38.5M13.0 16.3L36.9 40.1M11.4 17.9L35.2 41.7M9.8 19.5L33.6 43.4M8.1 21.2L32.0 45.0M6.5 22.8L30.4 46.6M4.9 24.4L28.7 48.3M3.3 26.0L27.1 49.9M1.6 27.7L25.5 51.5M0.0 29.3L23.9 53.1M-1.6 30.9L22.2 54.8M-3.2 32.5L20.6 56.4"/>
<path class="k" d="M19.2 10.7L19.2 46.5"/>
<path class="k" d="M19.2 46.5L24.2 46.5"/>
<path class="k" d="M19.2 16.6L28 16.6"/>
<path class="m" d="M19.2 12.6L24.2 12.6"/>
<clipPath id="c26"><path clip-rule="evenodd" d="M-18.4 11L-14.2 11L-14.2 89.5L-18.4 89.5Z"/></clipPath>
<path class="hd" clip-path="url(#c26)" d="M-76.1 48.9L-17.6 -9.5M-74.4 50.6L-15.9 -7.8M-72.7 52.3L-14.2 -6.1M-71.0 54.0L-12.6 -4.4M-69.3 55.7L-10.9 -2.7M-67.6 57.4L-9.2 -1.0M-65.9 59.1L-7.5 0.7M-64.2 60.8L-5.8 2.4M-62.5 62.5L-4.1 4.1M-60.8 64.2L-2.4 5.8M-59.1 65.9L-0.7 7.5M-57.4 67.6L1.0 9.2M-55.7 69.3L2.7 10.9M-54.0 71.0L4.4 12.6M-52.3 72.7L6.1 14.2M-50.6 74.4L7.8 15.9M-48.9 76.1L9.5 17.6M-47.2 77.8L11.2 19.3M-45.5 79.5L12.9 21.0M-43.8 81.2L14.6 22.7M-42.1 82.8L16.3 24.4M-40.4 84.5L18.0 26.1M-38.7 86.2L19.7 27.8M-37.0 87.9L21.4 29.5M-35.3 89.6L23.1 31.2M-33.6 91.3L24.8 32.9M-31.9 93.0L26.5 34.6M-30.2 94.7L28.2 36.3M-28.5 96.4L29.9 38.0M-26.8 98.1L31.6 39.7M-25.1 99.8L33.3 41.4M-23.5 101.5L35.0 43.1M-21.8 103.2L36.7 44.8M-20.1 104.9L38.4 46.5M-18.4 106.6L40.1 48.2M-16.7 108.3L41.8 49.9M-15.0 110.0L43.5 51.6"/>
<path class="k" d="M-13.8 10.7L-13.8 89.5"/>
<path class="k" d="M-18.8 46.5L-18.8 89.5"/>
<clipPath id="c27"><path clip-rule="evenodd" d="M14.2 11L18.4 11L18.4 89.5L14.2 89.5Z"/></clipPath>
<path class="hd" clip-path="url(#c27)" d="M-42.8 49.6L15.6 -8.8M-41.1 51.3L17.3 -7.1M-39.4 53.0L19.0 -5.4M-37.7 54.7L20.7 -3.7M-36.0 56.4L22.4 -2.1M-34.3 58.1L24.1 -0.4M-32.6 59.8L25.8 1.3M-30.9 61.5L27.5 3.0M-29.2 63.2L29.2 4.7M-27.5 64.9L30.9 6.4M-25.8 66.5L32.6 8.1M-24.1 68.2L34.3 9.8M-22.4 69.9L36.0 11.5M-20.7 71.6L37.7 13.2M-19.0 73.3L39.4 14.9M-17.3 75.0L41.1 16.6M-15.6 76.7L42.8 18.3M-13.9 78.4L44.5 20.0M-12.2 80.1L46.2 21.7M-10.5 81.8L47.9 23.4M-8.8 83.5L49.6 25.1M-7.2 85.2L51.3 26.8M-5.5 86.9L53.0 28.5M-3.8 88.6L54.7 30.2M-2.1 90.3L56.4 31.9M-0.4 92.0L58.1 33.6M1.3 93.7L59.8 35.3M3.0 95.4L61.4 37.0M4.7 97.1L63.1 38.7M6.4 98.8L64.8 40.4M8.1 100.5L66.5 42.1M9.8 102.2L68.2 43.8M11.5 103.9L69.9 45.5M13.2 105.6L71.6 47.2M14.9 107.3L73.3 48.9M16.6 109.0L75.0 50.6"/>
<path class="k" d="M13.8 10.7L13.8 89.5"/>
<path class="k" d="M18.8 46.5L18.8 89.5"/>
<path class="k" d="M-18.8 10.7L18.8 10.7"/>
<rect class="mw" x="-2.4" y="-2" width="4.8" height="74"/>
<rect class="mw" x="-5.4" y="30" width="10.8" height="20"/>
<path class="m" d="M-12.9 11L-12.9 66"/>
<path class="m" d="M12.9 11L12.9 66"/>
<path class="kw" d="M-9.8 15.5L8.6 10.6L12 13.9L8.6 17.2L-9.8 22.1Q-13 18.8 -9.8 15.5Z"/>
<path class="kw" d="M-9.8 24.9L8.6 20L12 23.3L8.6 26.6L-9.8 31.5Q-13 28.2 -9.8 24.9Z"/>
<path class="kw" d="M-9.8 47.9L8.6 43L12 46.3L8.6 49.6L-9.8 54.5Q-13 51.2 -9.8 47.9Z"/>
<path class="kw" d="M-9.8 58.5L8.6 53.6L12 56.9L8.6 60.2L-9.8 65.1Q-13 61.8 -9.8 58.5Z"/>
<circle class="m" cx="-8" cy="40.5" r="1.7"/>
<circle class="m" cx="8.3" cy="35.5" r="1.7"/>
<clipPath id="c28"><path clip-rule="evenodd" d="M-12.6 66.5L-6 66.5L-6 72L-12.6 72Z"/></clipPath>
<path class="hd" clip-path="url(#c28)" d="M-18.9 68.5L-10.0 59.6M-18.0 69.5L-9.1 60.6M-17.1 70.4L-8.2 61.5M-16.1 71.3L-7.2 62.4M-15.2 72.2L-6.3 63.3M-14.3 73.1L-5.4 64.2M-13.4 74.1L-4.5 65.2M-12.5 75.0L-3.6 66.1M-11.6 75.9L-2.6 67.0M-10.6 76.8L-1.7 67.9M-9.7 77.7L-0.8 68.8M-8.8 78.7L0.1 69.8"/>
<rect class="m" x="-12.6" y="66.5" width="6.6" height="5.5"/>
<clipPath id="c29"><path clip-rule="evenodd" d="M6 66.5L12.6 66.5L12.6 72L6 72Z"/></clipPath>
<path class="hd" clip-path="url(#c29)" d="M-0.4 68.4L8.5 59.5M0.5 69.4L9.4 60.5M1.4 70.3L10.3 61.4M2.3 71.2L11.2 62.3M3.3 72.1L12.2 63.2M4.2 73.0L13.1 64.1M5.1 74.0L14.0 65.1M6.0 74.9L14.9 66.0M6.9 75.8L15.8 66.9M7.9 76.7L16.8 67.8M8.8 77.6L17.7 68.7M9.7 78.6L18.6 69.6"/>
<rect class="m" x="6" y="66.5" width="6.6" height="5.5"/>
<path class="kw" d="M-10.3 76.3H10.3Q9 82.8 0 82.8Q-9 82.8 -10.3 76.3Z"/>
<path class="k" d="M-13.8 76.3L13.8 76.3"/>
<rect class="kw" x="-7.3" y="83.8" width="14.6" height="40.5"/>
<path class="cs" d="M0 88L0 121"/>
<path class="t" d="M-3 107.5L3.5 107.5"/>
<path class="t" d="M1 97L6 97"/>
<rect class="f" x="-12.2" y="89.5" width="4.4" height="19.5"/>
<path class="k" d="M-8.6 109L-8.6 121.5"/>
<path class="k" d="M-11.6 109L-11.6 121.5"/>
<rect class="f" x="7.8" y="89.5" width="4.4" height="19.5"/>
<path class="k" d="M8.6 109L8.6 121.5"/>
<path class="k" d="M11.6 109L11.6 121.5"/>
<path class="k" style="stroke-width:2.6" d="M5 110.5v9"/>
<path class="w" d="M-16 122.3H16V141.4H-16Z"/>
<clipPath id="c30"><path clip-rule="evenodd" d="M-16 122.3L-7.3 122.3L-7.3 124.3L7.3 124.3L7.3 122.3L16 122.3L16 141.4L-16 141.4ZM-2.4 124.3L2.4 124.3L2.4 141.4L-2.4 141.4Z"/></clipPath>
<path class="hd" clip-path="url(#c30)" d="M-29.6 131.4L-0.4 102.2M-28.3 132.7L0.8 103.5M-27.1 134.0L2.1 104.8M-25.8 135.2L3.4 106.1M-24.5 136.5L4.7 107.3M-23.2 137.8L5.9 108.6M-22.0 139.1L7.2 109.9M-20.7 140.3L8.5 111.2M-19.4 141.6L9.8 112.4M-18.1 142.9L11.0 113.7M-16.9 144.2L12.3 115.0M-15.6 145.4L13.6 116.2M-14.3 146.7L14.9 117.5M-13.1 148.0L16.1 118.8M-11.8 149.2L17.4 120.1M-10.5 150.5L18.7 121.3M-9.2 151.8L19.9 122.6M-8.0 153.1L21.2 123.9M-6.7 154.3L22.5 125.2M-5.4 155.6L23.8 126.4M-4.1 156.9L25.0 127.7M-2.9 158.2L26.3 129.0M-1.6 159.4L27.6 130.2M-0.3 160.7L28.9 131.5M0.9 162.0L30.1 132.8"/>
<clipPath id="c31"><path clip-rule="evenodd" d="M-16 122.3L-7.3 122.3L-7.3 124.3L7.3 124.3L7.3 122.3L16 122.3L16 141.4L-16 141.4ZM-2.4 124.3L2.4 124.3L2.4 141.4L-2.4 141.4Z"/></clipPath>
<path class="hd" clip-path="url(#c31)" d="M1.6 101.1L30.7 130.3M-0.7 103.4L28.5 132.6M-3.0 105.6L26.2 134.8M-5.2 107.9L23.9 137.1M-7.5 110.2L21.7 139.3M-9.8 112.4L19.4 141.6M-12.0 114.7L17.2 143.9M-14.3 117.0L14.9 146.1M-16.5 119.2L12.6 148.4M-18.8 121.5L10.4 150.7M-21.1 123.7L8.1 152.9M-23.3 126.0L5.8 155.2M-25.6 128.3L3.6 157.4M-27.9 130.5L1.3 159.7M-30.1 132.8L-0.9 162.0"/>
<path class="k" d="M-7.3 122.3L-16 122.3L-16 141.4L16 141.4L16 122.3L7.3 122.3"/>
<path class="k" d="M-2.4 124.3L-2.4 141.4"/>
<path class="k" d="M2.4 124.3L2.4 141.4"/>
<path class="m" d="M-16 131L-2.4 131"/>
<path class="m" d="M2.4 131L16 131"/>
<path class="m" d="M-6.5 124.3L-6.5 141.4"/>
<path class="m" d="M6.5 124.3L6.5 141.4"/>
<circle class="kw" style="stroke-width:1.1" cx="-12.3" cy="126.2" r="2.1"/>
<circle class="t" cx="-12.3" cy="126.2" r="0.6"/>
<rect class="f" x="-14.5" y="138.6" width="4.4" height="2.8"/>
<circle class="kw" style="stroke-width:1.1" cx="12.3" cy="126.2" r="2.1"/>
<circle class="t" cx="12.3" cy="126.2" r="0.6"/>
<rect class="f" x="10.1" y="138.6" width="4.4" height="2.8"/>
<g>
<path class="kw" d="M-8.395 0V-8.034Q-8.395 -8.91 -7.3 -8.91H7.3Q8.395 -8.91 8.395 -8.034V0Z"/>
<path class="k" d="M-4.015 -7.91L-4.015 0"/>
<path class="k" d="M4.015 -7.91L4.015 0"/>
<path class="kw" d="M-6.205 -8.91V-12.312C-6.205 -17.01 -2.92 -19.278 0 -19.278C2.92 -19.278 6.205 -17.01 6.205 -12.312V-8.91"/>
<path class="m" d="M-6.205 -12.312L6.205 -12.312"/>
<path class="k" d="M-6.935 -9.396L6.935 -9.396"/>
</g>
<rect class="f" x="-8" y="-10.4" width="16" height="2.8"/>
</g>
<g transform="translate(628.7 407.7) rotate(90)">
<path class="kw" d="M-27 9.9L-45 9.4L-62 7.7L-86.8 7.7A8 8 0 0 0 -86.8 23.7L-62 23.7L-45 22L-27 21.5"/>
<path class="t" d="M-87 3.7L-87 27.7"/>
<path class="k" d="M27 9.3L40 9.1M27 22.1L40 22.3"/>
<path class="t" d="M40 7.7Q38 11.7 40.5 14.7T40 22.7"/>
<path class="c" d="M-99 15.7L44 15.7"/>
<path class="kw" d="M-28 50.2V6Q-14 0 0 0Q14 0 28 6V50.2Z"/>
<clipPath id="c32"><path clip-rule="evenodd" d="M-23 1.6L23 1.6L26 5.4L-26 5.4ZM-2.6 0L2.6 0L2.6 7L-2.6 7Z"/></clipPath>
<path class="hd" clip-path="url(#c32)" d="M-40.3 2.9L-0.6 -36.8M-38.6 4.6L1.1 -35.1M-36.9 6.3L2.8 -33.4M-35.2 8.0L4.5 -31.7M-33.5 9.7L6.2 -30.0M-31.8 11.4L7.9 -28.3M-30.1 13.1L9.6 -26.6M-28.4 14.8L11.3 -24.9M-26.7 16.5L13.0 -23.2M-25.0 18.2L14.7 -21.5M-23.3 19.9L16.4 -19.8M-21.6 21.6L18.1 -18.1M-19.9 23.3L19.8 -16.4M-18.2 25.0L21.5 -14.7M-16.5 26.7L23.2 -13.0M-14.8 28.4L24.9 -11.3M-13.1 30.1L26.6 -9.6M-11.4 31.8L28.3 -7.9M-9.7 33.5L30.0 -6.2M-8.0 35.2L31.7 -4.5M-6.3 36.9L33.4 -2.8M-4.6 38.6L35.1 -1.1M-2.9 40.3L36.8 0.6M-1.2 42.0L38.5 2.3M0.5 43.7L40.2 4.0"/>
<path class="k" d="M-26 6L26 6"/>
<path class="k" d="M-24.5 9.2L24.5 9.2"/>
<clipPath id="c33"><path clip-rule="evenodd" d="M-23 6.5L23 6.5L23 8.7L-23 8.7ZM-2.6 0L2.6 0L2.6 9L-2.6 9Z"/></clipPath>
<path class="hd" clip-path="url(#c33)" d="M0.1 -27.9L35.5 7.5M-1.5 -26.3L33.9 9.1M-3.0 -24.8L32.4 10.6M-4.6 -23.2L30.8 12.2M-6.1 -21.7L29.3 13.7M-7.7 -20.1L27.7 15.3M-9.2 -18.6L26.2 16.8M-10.8 -17.0L24.6 18.4M-12.3 -15.5L23.1 19.9M-13.9 -13.9L21.5 21.5M-15.5 -12.3L19.9 23.1M-17.0 -10.8L18.4 24.6M-18.6 -9.2L16.8 26.2M-20.1 -7.7L15.3 27.7M-21.7 -6.1L13.7 29.3M-23.2 -4.6L12.2 30.8M-24.8 -3.0L10.6 32.4M-26.3 -1.5L9.1 33.9M-27.9 0.1L7.5 35.5M-29.5 1.7L5.9 37.1M-31.0 3.2L4.4 38.6M-32.6 4.8L2.8 40.2M-34.1 6.3L1.3 41.7M-35.7 7.9L-0.3 43.3"/>
<clipPath id="c34"><path clip-rule="evenodd" d="M-27.2 17L-24.6 17L-24.6 49L-27.2 49Z"/></clipPath>
<path class="hd" clip-path="url(#c34)" d="M-52.0 32.5L-26.4 6.9M-50.3 34.1L-24.8 8.6M-48.7 35.7L-23.2 10.2M-47.1 37.3L-21.6 11.8M-45.5 39.0L-19.9 13.4M-43.8 40.6L-18.3 15.1M-42.2 42.2L-16.7 16.7M-40.6 43.8L-15.1 18.3M-39.0 45.5L-13.4 19.9M-37.3 47.1L-11.8 21.6M-35.7 48.7L-10.2 23.2M-34.1 50.3L-8.6 24.8M-32.5 52.0L-6.9 26.4M-30.8 53.6L-5.3 28.1M-29.2 55.2L-3.7 29.7M-27.6 56.9L-2.0 31.3M-26.0 58.5L-0.4 32.9M-24.3 60.1L1.2 34.6"/>
<path class="k" d="M-24.2 9.2L-24.2 50.2"/>
<clipPath id="c35"><path clip-rule="evenodd" d="M-23.2 17L-19.6 17L-19.6 46.5L-23.2 46.5Z"/></clipPath>
<path class="hd" clip-path="url(#c35)" d="M-21.4 7.9L2.5 31.7M-23.0 9.5L0.8 33.4M-24.6 11.1L-0.8 35.0M-26.3 12.8L-2.4 36.6M-27.9 14.4L-4.0 38.2M-29.5 16.0L-5.7 39.9M-31.1 17.6L-7.3 41.5M-32.8 19.3L-8.9 43.1M-34.4 20.9L-10.6 44.7M-36.0 22.5L-12.2 46.4M-37.6 24.2L-13.8 48.0M-39.3 25.8L-15.4 49.6M-40.9 27.4L-17.1 51.2M-42.5 29.0L-18.7 52.9M-44.2 30.7L-20.3 54.5M-45.8 32.3L-21.9 56.1"/>
<path class="k" d="M-19.2 10.7L-19.2 46.5"/>
<path class="k" d="M-19.2 46.5L-24.2 46.5"/>
<path class="k" d="M-19.2 16.6L-28 16.6"/>
<path class="m" d="M-19.2 12.6L-24.2 12.6"/>
<clipPath id="c36"><path clip-rule="evenodd" d="M24.6 17L27.2 17L27.2 49L24.6 49Z"/></clipPath>
<path class="hd" clip-path="url(#c36)" d="M-0.1 32.6L25.5 7.0M1.6 34.2L27.1 8.7M3.2 35.8L28.7 10.3M4.8 37.5L30.4 11.9M6.5 39.1L32.0 13.6M8.1 40.7L33.6 15.2M9.7 42.3L35.2 16.8M11.3 44.0L36.9 18.4M13.0 45.6L38.5 20.1M14.6 47.2L40.1 21.7M16.2 48.8L41.7 23.3M17.8 50.5L43.4 24.9M19.5 52.1L45.0 26.6M21.1 53.7L46.6 28.2M22.7 55.3L48.2 29.8M24.3 57.0L49.9 31.4M26.0 58.6L51.5 33.1"/>
<path class="k" d="M24.2 9.2L24.2 50.2"/>
<clipPath id="c37"><path clip-rule="evenodd" d="M19.6 17L23.2 17L23.2 46.5L19.6 46.5Z"/></clipPath>
<path class="hd" clip-path="url(#c37)" d="M22.8 6.5L46.6 30.4M21.2 8.1L45.0 32.0M19.5 9.8L43.4 33.6M17.9 11.4L41.7 35.2M16.3 13.0L40.1 36.9M14.7 14.7L38.5 38.5M13.0 16.3L36.9 40.1M11.4 17.9L35.2 41.7M9.8 19.5L33.6 43.4M8.1 21.2L32.0 45.0M6.5 22.8L30.4 46.6M4.9 24.4L28.7 48.3M3.3 26.0L27.1 49.9M1.6 27.7L25.5 51.5M0.0 29.3L23.9 53.1M-1.6 30.9L22.2 54.8M-3.2 32.5L20.6 56.4"/>
<path class="k" d="M19.2 10.7L19.2 46.5"/>
<path class="k" d="M19.2 46.5L24.2 46.5"/>
<path class="k" d="M19.2 16.6L28 16.6"/>
<path class="m" d="M19.2 12.6L24.2 12.6"/>
<clipPath id="c38"><path clip-rule="evenodd" d="M-18.4 11L-14.2 11L-14.2 89.5L-18.4 89.5Z"/></clipPath>
<path class="hd" clip-path="url(#c38)" d="M-76.1 48.9L-17.6 -9.5M-74.4 50.6L-15.9 -7.8M-72.7 52.3L-14.2 -6.1M-71.0 54.0L-12.6 -4.4M-69.3 55.7L-10.9 -2.7M-67.6 57.4L-9.2 -1.0M-65.9 59.1L-7.5 0.7M-64.2 60.8L-5.8 2.4M-62.5 62.5L-4.1 4.1M-60.8 64.2L-2.4 5.8M-59.1 65.9L-0.7 7.5M-57.4 67.6L1.0 9.2M-55.7 69.3L2.7 10.9M-54.0 71.0L4.4 12.6M-52.3 72.7L6.1 14.2M-50.6 74.4L7.8 15.9M-48.9 76.1L9.5 17.6M-47.2 77.8L11.2 19.3M-45.5 79.5L12.9 21.0M-43.8 81.2L14.6 22.7M-42.1 82.8L16.3 24.4M-40.4 84.5L18.0 26.1M-38.7 86.2L19.7 27.8M-37.0 87.9L21.4 29.5M-35.3 89.6L23.1 31.2M-33.6 91.3L24.8 32.9M-31.9 93.0L26.5 34.6M-30.2 94.7L28.2 36.3M-28.5 96.4L29.9 38.0M-26.8 98.1L31.6 39.7M-25.1 99.8L33.3 41.4M-23.5 101.5L35.0 43.1M-21.8 103.2L36.7 44.8M-20.1 104.9L38.4 46.5M-18.4 106.6L40.1 48.2M-16.7 108.3L41.8 49.9M-15.0 110.0L43.5 51.6"/>
<path class="k" d="M-13.8 10.7L-13.8 89.5"/>
<path class="k" d="M-18.8 46.5L-18.8 89.5"/>
<clipPath id="c39"><path clip-rule="evenodd" d="M14.2 11L18.4 11L18.4 89.5L14.2 89.5Z"/></clipPath>
<path class="hd" clip-path="url(#c39)" d="M-42.8 49.6L15.6 -8.8M-41.1 51.3L17.3 -7.1M-39.4 53.0L19.0 -5.4M-37.7 54.7L20.7 -3.7M-36.0 56.4L22.4 -2.1M-34.3 58.1L24.1 -0.4M-32.6 59.8L25.8 1.3M-30.9 61.5L27.5 3.0M-29.2 63.2L29.2 4.7M-27.5 64.9L30.9 6.4M-25.8 66.5L32.6 8.1M-24.1 68.2L34.3 9.8M-22.4 69.9L36.0 11.5M-20.7 71.6L37.7 13.2M-19.0 73.3L39.4 14.9M-17.3 75.0L41.1 16.6M-15.6 76.7L42.8 18.3M-13.9 78.4L44.5 20.0M-12.2 80.1L46.2 21.7M-10.5 81.8L47.9 23.4M-8.8 83.5L49.6 25.1M-7.2 85.2L51.3 26.8M-5.5 86.9L53.0 28.5M-3.8 88.6L54.7 30.2M-2.1 90.3L56.4 31.9M-0.4 92.0L58.1 33.6M1.3 93.7L59.8 35.3M3.0 95.4L61.4 37.0M4.7 97.1L63.1 38.7M6.4 98.8L64.8 40.4M8.1 100.5L66.5 42.1M9.8 102.2L68.2 43.8M11.5 103.9L69.9 45.5M13.2 105.6L71.6 47.2M14.9 107.3L73.3 48.9M16.6 109.0L75.0 50.6"/>
<path class="k" d="M13.8 10.7L13.8 89.5"/>
<path class="k" d="M18.8 46.5L18.8 89.5"/>
<path class="k" d="M-18.8 10.7L18.8 10.7"/>
<rect class="mw" x="-2.4" y="-2" width="4.8" height="74"/>
<rect class="mw" x="-5.4" y="30" width="10.8" height="20"/>
<path class="m" d="M-12.9 11L-12.9 66"/>
<path class="m" d="M12.9 11L12.9 66"/>
<path class="kw" d="M-9.8 17.8L8.6 8.3L12 11.6L8.6 14.9L-9.8 24.4Q-13 21.1 -9.8 17.8Z"/>
<path class="kw" d="M-9.8 27.2L8.6 17.7L12 21L8.6 24.3L-9.8 33.8Q-13 30.5 -9.8 27.2Z"/>
<path class="kw" d="M-9.8 50.2L8.6 40.7L12 44L8.6 47.3L-9.8 56.8Q-13 53.5 -9.8 50.2Z"/>
<path class="kw" d="M-9.8 60.8L8.6 51.3L12 54.6L8.6 57.9L-9.8 67.4Q-13 64.1 -9.8 60.8Z"/>
<circle class="m" cx="-8" cy="40.5" r="1.7"/>
<circle class="m" cx="8.3" cy="35.5" r="1.7"/>
<clipPath id="c40"><path clip-rule="evenodd" d="M-12.6 66.5L-6 66.5L-6 72L-12.6 72Z"/></clipPath>
<path class="hd" clip-path="url(#c40)" d="M-18.9 68.5L-10.0 59.6M-18.0 69.5L-9.1 60.6M-17.1 70.4L-8.2 61.5M-16.1 71.3L-7.2 62.4M-15.2 72.2L-6.3 63.3M-14.3 73.1L-5.4 64.2M-13.4 74.1L-4.5 65.2M-12.5 75.0L-3.6 66.1M-11.6 75.9L-2.6 67.0M-10.6 76.8L-1.7 67.9M-9.7 77.7L-0.8 68.8M-8.8 78.7L0.1 69.8"/>
<rect class="m" x="-12.6" y="66.5" width="6.6" height="5.5"/>
<clipPath id="c41"><path clip-rule="evenodd" d="M6 66.5L12.6 66.5L12.6 72L6 72Z"/></clipPath>
<path class="hd" clip-path="url(#c41)" d="M-0.4 68.4L8.5 59.5M0.5 69.4L9.4 60.5M1.4 70.3L10.3 61.4M2.3 71.2L11.2 62.3M3.3 72.1L12.2 63.2M4.2 73.0L13.1 64.1M5.1 74.0L14.0 65.1M6.0 74.9L14.9 66.0M6.9 75.8L15.8 66.9M7.9 76.7L16.8 67.8M8.8 77.6L17.7 68.7M9.7 78.6L18.6 69.6"/>
<rect class="m" x="6" y="66.5" width="6.6" height="5.5"/>
<path class="kw" d="M-10.3 76.3H10.3Q9 82.8 0 82.8Q-9 82.8 -10.3 76.3Z"/>
<path class="k" d="M-13.8 76.3L13.8 76.3"/>
<rect class="kw" x="-7.3" y="83.8" width="14.6" height="40.5"/>
<path class="cs" d="M0 88L0 121"/>
<path class="t" d="M-3 107.5L3.5 107.5"/>
<path class="t" d="M1 97L6 97"/>
<rect class="f" x="-12.2" y="89.5" width="4.4" height="19.5"/>
<path class="k" d="M-8.6 109L-8.6 121.5"/>
<path class="k" d="M-11.6 109L-11.6 121.5"/>
<rect class="f" x="7.8" y="89.5" width="4.4" height="19.5"/>
<path class="k" d="M8.6 109L8.6 121.5"/>
<path class="k" d="M11.6 109L11.6 121.5"/>
<path class="k" style="stroke-width:2.6" d="M5 110.5v9"/>
<path class="w" d="M-16 122.3H16V141.4H-16Z"/>
<clipPath id="c42"><path clip-rule="evenodd" d="M-16 122.3L-7.3 122.3L-7.3 124.3L7.3 124.3L7.3 122.3L16 122.3L16 141.4L-16 141.4ZM-2.4 124.3L2.4 124.3L2.4 141.4L-2.4 141.4Z"/></clipPath>
<path class="hd" clip-path="url(#c42)" d="M-29.6 131.4L-0.4 102.2M-28.3 132.7L0.8 103.5M-27.1 134.0L2.1 104.8M-25.8 135.2L3.4 106.1M-24.5 136.5L4.7 107.3M-23.2 137.8L5.9 108.6M-22.0 139.1L7.2 109.9M-20.7 140.3L8.5 111.2M-19.4 141.6L9.8 112.4M-18.1 142.9L11.0 113.7M-16.9 144.2L12.3 115.0M-15.6 145.4L13.6 116.2M-14.3 146.7L14.9 117.5M-13.1 148.0L16.1 118.8M-11.8 149.2L17.4 120.1M-10.5 150.5L18.7 121.3M-9.2 151.8L19.9 122.6M-8.0 153.1L21.2 123.9M-6.7 154.3L22.5 125.2M-5.4 155.6L23.8 126.4M-4.1 156.9L25.0 127.7M-2.9 158.2L26.3 129.0M-1.6 159.4L27.6 130.2M-0.3 160.7L28.9 131.5M0.9 162.0L30.1 132.8"/>
<clipPath id="c43"><path clip-rule="evenodd" d="M-16 122.3L-7.3 122.3L-7.3 124.3L7.3 124.3L7.3 122.3L16 122.3L16 141.4L-16 141.4ZM-2.4 124.3L2.4 124.3L2.4 141.4L-2.4 141.4Z"/></clipPath>
<path class="hd" clip-path="url(#c43)" d="M1.6 101.1L30.7 130.3M-0.7 103.4L28.5 132.6M-3.0 105.6L26.2 134.8M-5.2 107.9L23.9 137.1M-7.5 110.2L21.7 139.3M-9.8 112.4L19.4 141.6M-12.0 114.7L17.2 143.9M-14.3 117.0L14.9 146.1M-16.5 119.2L12.6 148.4M-18.8 121.5L10.4 150.7M-21.1 123.7L8.1 152.9M-23.3 126.0L5.8 155.2M-25.6 128.3L3.6 157.4M-27.9 130.5L1.3 159.7M-30.1 132.8L-0.9 162.0"/>
<path class="k" d="M-7.3 122.3L-16 122.3L-16 141.4L16 141.4L16 122.3L7.3 122.3"/>
<path class="k" d="M-2.4 124.3L-2.4 141.4"/>
<path class="k" d="M2.4 124.3L2.4 141.4"/>
<path class="m" d="M-16 131L-2.4 131"/>
<path class="m" d="M2.4 131L16 131"/>
<path class="m" d="M-6.5 124.3L-6.5 141.4"/>
<path class="m" d="M6.5 124.3L6.5 141.4"/>
<circle class="kw" style="stroke-width:1.1" cx="-12.3" cy="126.2" r="2.1"/>
<circle class="t" cx="-12.3" cy="126.2" r="0.6"/>
<rect class="f" x="-14.5" y="138.6" width="4.4" height="2.8"/>
<circle class="kw" style="stroke-width:1.1" cx="12.3" cy="126.2" r="2.1"/>
<circle class="t" cx="12.3" cy="126.2" r="0.6"/>
<rect class="f" x="10.1" y="138.6" width="4.4" height="2.8"/>
<g>
<path class="kw" d="M-8.395 0V-7.044Q-8.395 -7.92 -7.3 -7.92H7.3Q8.395 -7.92 8.395 -7.044V0Z"/>
<path class="k" d="M-4.015 -6.92L-4.015 0"/>
<path class="k" d="M4.015 -6.92L4.015 0"/>
<path class="kw" d="M-6.205 -7.92V-10.944C-6.205 -15.12 -2.92 -17.136 0 -17.136C2.92 -17.136 6.205 -15.12 6.205 -10.944V-7.92"/>
<path class="m" d="M-6.205 -10.944L6.205 -10.944"/>
<path class="k" d="M-6.935 -8.352L6.935 -8.352"/>
</g>
<rect class="f" x="-8" y="-9.3" width="16" height="2.8"/>
</g>
<path class="t" d="M480 131L526.6 131"/>
<path class="t" d="M508.7 127L508.7 138"/>
<path class="t" d="M518.1 127L518.1 138"/>
<text class="tx" x="482" y="129.3" font-size="5" text-anchor="start">M10*</text>
<path class="t" d="M464 194.7L485.4 194.7"/>
<text class="tx" x="466" y="193" font-size="5" text-anchor="start">M36*</text>
<path class="t" d="M457.3 264.5L505.6 264.5"/>
<text class="tx" x="458.5" y="262.8" font-size="5" text-anchor="start">Ø16F8/h7*</text>
<path class="t" d="M454.7 288.4L497 288.4"/>
<text class="tx" x="456.5" y="286.7" font-size="5" text-anchor="start">Ø15F8/f7*</text>
<path class="t" d="M600 370.1L641 370.1"/>
<text class="tx" x="628" y="368.4" font-size="5" text-anchor="start">M8*</text>
<path class="t" d="M601 321.6L624.5 321.6"/>
<path class="t" d="M646 403.3L657 403.3"/>
<path class="t" d="M646 412.7L657 412.7"/>
<path class="t" d="M654.4 396.1L654.4 420"/>
<path class="t" d="M654.4 396.1L676 396.1"/>
<text class="tx" x="659.5" y="394.4" font-size="5" text-anchor="start">M10*</text>
<text class="tx" x="479" y="146.3" font-size="8.5" text-anchor="start">17</text>
<path class="t" d="M478 147.9L492 147.9"/>
<path class="t" d="M492 147.9L501 154.5"/>
<text class="tx" x="569.5" y="146.9" font-size="8.5" text-anchor="start">1</text>
<path class="t" d="M564 148.5L573 148.5"/>
<path class="t" d="M564 148.5L538.9 158.2"/>
<text class="tx" x="586" y="146.9" font-size="8.5" text-anchor="start">18</text>
<path class="t" d="M585 148.5L600 148.5"/>
<path class="t" d="M600 148.5L590.8 168.3"/>
<text class="tx" x="574" y="190.1" font-size="8.5" text-anchor="start">19</text>
<path class="t" d="M572.7 191.7L584 191.7"/>
<path class="t" d="M572.7 191.7L560 190.5L542.5 185.2"/>
<text class="tx" x="574" y="203.7" font-size="8.5" text-anchor="start">21</text>
<path class="t" d="M566.9 205.3L584.5 205.3"/>
<path class="t" d="M566.9 205.3L533 217"/>
<text class="tx" x="574" y="217.5" font-size="8.5" text-anchor="start">20</text>
<path class="t" d="M566.9 219.1L584.5 219.1"/>
<path class="t" d="M566.9 219.1L533 227"/>
<text class="tx" x="575" y="231.1" font-size="8.5" text-anchor="start">16</text>
<path class="t" d="M573 232.7L584.5 232.7"/>
<path class="t" d="M573 232.7L540.5 238.5"/>
<text class="tx" x="574" y="243.7" font-size="8.5" text-anchor="start">23</text>
<path class="t" d="M566 245.3L584.5 245.3"/>
<path class="t" d="M566 245.3L517.9 252"/>
<text class="tx" x="574" y="259.1" font-size="8.5" text-anchor="start">26</text>
<path class="t" d="M566 260.7L584.5 260.7"/>
<path class="t" d="M566 260.7L550 260L533 257.2"/>
<text class="tx" x="574" y="270.7" font-size="8.5" text-anchor="start">39</text>
<path class="t" d="M566 272.3L584.5 272.3"/>
<path class="t" d="M566 272.3L552 271L525.4 261.6"/>
<text class="tx" x="574" y="288.5" font-size="8.5" text-anchor="start">24</text>
<path class="t" d="M566 290.1L584.5 290.1"/>
<path class="t" d="M566 290.1L552 288.5L526.7 281"/>
<text class="tx" x="574" y="304.7" font-size="8.5" text-anchor="start">25</text>
<path class="t" d="M567 306.3L584.5 306.3"/>
<path class="t" d="M567 306.3L552 303L539 297"/>
<text class="tx" x="574.5" y="321.9" font-size="8.5" text-anchor="start">9</text>
<path class="t" d="M567.7 323.5L579 323.5"/>
<path class="t" d="M567.7 323.5L558 320L540 304.4"/>
<text class="tx" x="575" y="338" font-size="8.5" text-anchor="start">7</text>
<path class="t" d="M567.7 339.6L579 339.6"/>
<path class="t" d="M567.7 339.6L532 326.6"/>
<text class="tx" x="574" y="349.7" font-size="8.5" text-anchor="start">10</text>
<path class="t" d="M567.7 351.3L582.8 351.3"/>
<path class="t" d="M567.7 351.3L521 382"/>
<text class="tx" x="573" y="361.8" font-size="8.5" text-anchor="start">27</text>
<path class="t" d="M567.7 363.4L584.5 363.4"/>
<path class="t" d="M567.7 363.4L546.4 381.7"/>
<text class="tx" x="573" y="374.4" font-size="8.5" text-anchor="start">20</text>
<path class="t" d="M567.7 376L584.5 376"/>
<path class="t" d="M567.7 378.6L584.5 378.6"/>
<path class="t" d="M567.7 376L562 387.3"/>
<text class="tx" x="639.5" y="350.5" font-size="8.5" text-anchor="start">18</text>
<path class="t" d="M633 352.1L648.6 352.1"/>
<path class="t" d="M633 354.7L648.6 354.7"/>
<path class="t" d="M633 352.1L616.1 361.6"/>
<text class="tx" x="640" y="382.8" font-size="8.5" text-anchor="start">37</text>
<path class="t" d="M633.7 384.4L650 384.4"/>
<path class="t" d="M633.7 387L650 387"/>
<path class="t" d="M633.7 384.4L632.5 397"/>
<text class="tx" x="399" y="299.6" font-size="8.5" text-anchor="start">50</text>
<path class="t" d="M398 301.2L414 301.2"/>
<path class="t" d="M414 301.2L427.6 308"/>
<text class="tx" x="399" y="317.3" font-size="8.5" text-anchor="start">35</text>
<path class="t" d="M398 318.9L414 318.9"/>
<path class="t" d="M414 318.9L418.5 346"/>
<text class="tx" x="469.5" y="315.7" font-size="8.5" text-anchor="start">15</text>
<path class="t" d="M462.6 317.3L478 317.3"/>
<path class="t" d="M462.6 317.3L458.5 345"/>
<text class="tx" x="465.5" y="457" font-size="8.5" text-anchor="start">9</text>
<path class="t" d="M465 458.6L476.5 458.6"/>
<path class="t" d="M465 461.2L476.5 461.2"/>
<path class="t" d="M476.5 458.6L486.7 427.8"/>
<text class="tx" x="481.5" y="457" font-size="8.5" text-anchor="start">25</text>
<path class="t" d="M481 458.6L496.5 458.6"/>
<path class="t" d="M481 461.2L496.5 461.2"/>
<path class="t" d="M496.5 458.6L494.8 425"/>
<text class="tx" x="506.8" y="457" font-size="8.5" text-anchor="start">24</text>
<path class="t" d="M500.5 458.6L517.7 458.6"/>
<path class="t" d="M500.5 461.2L517.7 461.2"/>
<path class="t" d="M500.5 458.6L502.4 422.8"/>
<text class="tx" x="527.5" y="457" font-size="8.5" text-anchor="start">23</text>
<path class="t" d="M521.9 458.6L538.2 458.6"/>
<path class="t" d="M521.9 461.2L538.2 461.2"/>
<path class="t" d="M521.9 458.6L523.7 417.1"/>
<text class="tx" x="548.3" y="457" font-size="8.5" text-anchor="start">39</text>
<path class="t" d="M543.2 458.6L559 458.6"/>
<path class="t" d="M543.2 461.2L559 461.2"/>
<path class="t" d="M543.2 458.6L536.3 422.8"/>
<text class="tx" x="572.8" y="457" font-size="8.5" text-anchor="start">28</text>
<path class="t" d="M566.5 458.6L583 458.6"/>
<path class="t" d="M566.5 461.2L583 461.2"/>
<path class="t" d="M566.5 458.6L550.2 434"/>
<text class="tx" x="594.1" y="457" font-size="8.5" text-anchor="start">21</text>
<path class="t" d="M588.5 458.6L603 458.6"/>
<path class="t" d="M588.5 461.2L603 461.2"/>
<path class="t" d="M588.5 458.6L584.7 436.6"/>
<text class="tx" x="616.5" y="457" font-size="8.5" text-anchor="start">17</text>
<path class="t" d="M610.5 458.6L625.5 458.6"/>
<path class="t" d="M610.5 461.2L625.5 461.2"/>
<path class="t" d="M610.5 458.6L601 436.6"/>
<text class="tx" x="641" y="457" font-size="8.5" text-anchor="start">19</text>
<path class="t" d="M635 458.6L650 458.6"/>
<path class="t" d="M635 461.2L650 461.2"/>
<path class="t" d="M635 458.6L619.2 438.5"/>
<text class="tx" x="671.5" y="457" font-size="8.5" text-anchor="start">1</text>
<path class="t" d="M665.7 458.6L675.5 458.6"/>
<path class="t" d="M665.7 461.2L675.5 461.2"/>
<path class="t" d="M665.7 458.6L628.7 427.8"/>
<text class="tx" x="500.5" y="472" font-size="8" text-anchor="start">Б</text>
<path class="k2" d="M513.4 470L513.4 482"/>
<path class="t" d="M513.4 474L506 474"/>
</g>
<g id="v2">
<path class="k" d="M487.6 483.3L122 483.3L122 588.8L487.6 588.8"/>
<path class="k" d="M122 501.2L224.4 501.2L224.4 552.9"/>
<path class="k" d="M122 552.9L224.4 552.9"/>
<path class="k" style="stroke-width:2.6;stroke-linejoin:round" d="M127.2 518.4L132.7 507.5H147.7L153.2 518.4"/>
<path class="k" d="M131.2 518.4Q132.2 510.5 140.2 510.5Q148.2 510.5 149.2 518.4"/>
<path class="t" d="M140.2 503L140.2 530"/>
<path class="k" style="stroke-width:2.6;stroke-linejoin:round" d="M193.8 518.4L199.3 507.5H214.3L219.8 518.4"/>
<path class="k" d="M197.8 518.4Q198.8 510.5 206.8 510.5Q214.8 510.5 215.8 518.4"/>
<path class="t" d="M206.8 503L206.8 530"/>
<path class="k" style="stroke-width:2" d="M123 518.4L224 518.4"/>
<path class="k" d="M160 521.6L223 521.6"/>
<path class="m" d="M124 520.7L160 520.7"/>
<rect class="kw" x="116.3" y="552.9" width="114.4" height="14.5"/>
<path class="f" style="stroke:#000;stroke-width:1" d="M118 567.4H229L224.5 572.8H122.5Z"/>
<path class="m" d="M118 566L130 566"/>
<path class="tg2" d="M257.8 517.4L251.8 527.792L239.8 527.792L233.8 517.4L239.8 507.008L251.8 507.008Z"/>
<circle class="m" cx="245.8" cy="517.4" r="8.9"/>
<circle class="tg2" cx="245.8" cy="517.4" r="10.2"/>
<path class="t" d="M232.8 517.4L258.8 517.4"/>
<path class="t" d="M245.8 504.4L245.8 530.4"/>
<path class="tg2" d="M257.8 556.4L251.8 566.792L239.8 566.792L233.8 556.4L239.8 546.008L251.8 546.008Z"/>
<circle class="m" cx="245.8" cy="556.4" r="8.9"/>
<circle class="tg2" cx="245.8" cy="556.4" r="10.2"/>
<path class="t" d="M232.8 556.4L258.8 556.4"/>
<path class="t" d="M245.8 543.4L245.8 569.4"/>
<path class="tg2" d="M297.3 517.4L291.3 527.792L279.3 527.792L273.3 517.4L279.3 507.008L291.3 507.008Z"/>
<circle class="m" cx="285.3" cy="517.4" r="8.9"/>
<circle class="tg2" cx="285.3" cy="517.4" r="10.2"/>
<path class="t" d="M272.3 517.4L298.3 517.4"/>
<path class="t" d="M285.3 504.4L285.3 530.4"/>
<path class="tg2" d="M297.3 556.4L291.3 566.792L279.3 566.792L273.3 556.4L279.3 546.008L291.3 546.008Z"/>
<circle class="m" cx="285.3" cy="556.4" r="8.9"/>
<circle class="tg2" cx="285.3" cy="556.4" r="10.2"/>
<path class="t" d="M272.3 556.4L298.3 556.4"/>
<path class="t" d="M285.3 543.4L285.3 569.4"/>
<path class="tg2" d="M336.5 517.4L330.5 527.792L318.5 527.792L312.5 517.4L318.5 507.008L330.5 507.008Z"/>
<circle class="m" cx="324.5" cy="517.4" r="8.9"/>
<circle class="tg2" cx="324.5" cy="517.4" r="10.2"/>
<path class="t" d="M311.5 517.4L337.5 517.4"/>
<path class="t" d="M324.5 504.4L324.5 530.4"/>
<path class="tg2" d="M336.5 556.4L330.5 566.792L318.5 566.792L312.5 556.4L318.5 546.008L330.5 546.008Z"/>
<circle class="m" cx="324.5" cy="556.4" r="8.9"/>
<circle class="tg2" cx="324.5" cy="556.4" r="10.2"/>
<path class="t" d="M311.5 556.4L337.5 556.4"/>
<path class="t" d="M324.5 543.4L324.5 569.4"/>
<path class="tg2" d="M377.5 517.4L371.5 527.792L359.5 527.792L353.5 517.4L359.5 507.008L371.5 507.008Z"/>
<circle class="m" cx="365.5" cy="517.4" r="8.9"/>
<circle class="tg2" cx="365.5" cy="517.4" r="10.2"/>
<path class="t" d="M352.5 517.4L378.5 517.4"/>
<path class="t" d="M365.5 504.4L365.5 530.4"/>
<path class="tg2" d="M377.5 556.4L371.5 566.792L359.5 566.792L353.5 556.4L359.5 546.008L371.5 546.008Z"/>
<circle class="m" cx="365.5" cy="556.4" r="8.9"/>
<circle class="tg2" cx="365.5" cy="556.4" r="10.2"/>
<path class="t" d="M352.5 556.4L378.5 556.4"/>
<path class="t" d="M365.5 543.4L365.5 569.4"/>
<circle class="k" style="stroke-width:7.2" cx="304.8" cy="536.6" r="9.7"/>
<circle class="k" cx="304.8" cy="536.6" r="3.1"/>
<path class="m" d="M303 536.6L306.6 536.6"/>
<path class="kw" d="M297.9 551V559.6Q297.9 561 299.3 561H311.3Q312.7 561 312.7 559.6V551"/>
<rect class="k" x="386.3" y="501.2" width="101.8" height="70.6"/>
<path class="f" style="stroke:#000;stroke-width:1;stroke-linejoin:round" d="M415.5 517.4L409.6 527.6L397.8 527.6L391.9 517.4L397.8 507.2L409.6 507.2Z"/>
<circle class="w" cx="403.7" cy="517.4" r="6.8"/>
<path class="t" d="M390.4 517.4L417 517.4"/>
<path class="t" d="M403.7 504.6L403.7 530.2"/>
<path class="f" style="stroke:#000;stroke-width:1;stroke-linejoin:round" d="M415.5 556.4L409.6 566.6L397.8 566.6L391.9 556.4L397.8 546.2L409.6 546.2Z"/>
<circle class="w" cx="403.7" cy="556.4" r="6.8"/>
<path class="t" d="M390.4 556.4L417 556.4"/>
<path class="t" d="M403.7 543.6L403.7 569.2"/>
<path class="f" style="stroke:#000;stroke-width:1;stroke-linejoin:round" d="M482.3 517.4L476.4 527.6L464.6 527.6L458.7 517.4L464.6 507.2L476.4 507.2Z"/>
<circle class="w" cx="470.5" cy="517.4" r="6.8"/>
<path class="t" d="M457.2 517.4L483.8 517.4"/>
<path class="t" d="M470.5 504.6L470.5 530.2"/>
<path class="f" style="stroke:#000;stroke-width:1;stroke-linejoin:round" d="M482.3 556.4L476.4 566.6L464.6 566.6L458.7 556.4L464.6 546.2L476.4 546.2Z"/>
<circle class="w" cx="470.5" cy="556.4" r="6.8"/>
<path class="t" d="M457.2 556.4L483.8 556.4"/>
<path class="t" d="M470.5 543.6L470.5 569.2"/>
<circle class="k" cx="437.2" cy="536.3" r="20.6"/>
<circle class="k" cx="437.2" cy="536.3" r="18.4"/>
<rect class="kw" x="430.3" y="553.8" width="13.2" height="12.3"/>
<path class="k" d="M430.3 559.4L443.5 559.4"/>
<path class="cs" d="M437.2 510L437.2 570"/>
<path class="kw" d="M488 531L462 530.2L452 528.4H427A7.9 7.9 0 0 0 427 544.2H452L462 542.4L488 541.6"/>
<path class="c" d="M413 536.4L660 536.4"/>
<path class="k" d="M487.8 483.3L553.9 483.3L553.9 589.6L539.3 589.6"/>
<path class="k" d="M487.8 483.3L487.8 624.2"/>
<path class="k" d="M539.3 483.3L539.3 624.2"/>
<path class="k" d="M487.8 624.2L539.3 624.2"/>
<path class="k" d="M487.8 492.6L539.3 492.6"/>
<path class="k" d="M487.8 579.7L539.3 579.7"/>
<path class="k" d="M487.8 599.8L539.3 599.8"/>
<path class="c" d="M452 498.2L582 498.2"/>
<path class="c" d="M452 575.2L582 575.2"/>
<path class="cs" d="M482 546.3L546 546.3"/>
<path class="c" d="M513.2 476L513.2 700"/>
<path class="f" style="stroke:#000;stroke-width:1;stroke-linejoin:round" d="M510.5 509.4L501.8 516.7L491.1 512.8L489.1 501.6L497.8 494.3L508.5 498.2Z"/>
<circle class="w" cx="499.8" cy="505.5" r="7.6"/>
<path class="t" d="M486.9 505.5L512.7 505.5"/>
<path class="t" d="M499.8 493.1L499.8 517.9"/>
<path class="f" style="stroke:#000;stroke-width:1;stroke-linejoin:round" d="M537.3 571.4L528.6 578.7L517.9 574.8L515.9 563.6L524.6 556.3L535.3 560.2Z"/>
<circle class="w" cx="526.6" cy="567.5" r="7.6"/>
<path class="t" d="M513.7 567.5L539.5 567.5"/>
<path class="t" d="M526.6 555.1L526.6 579.9"/>
<circle class="kw" cx="513.2" cy="536.4" r="26.5"/>
<circle class="k" style="stroke-width:3" cx="513.2" cy="536.4" r="16.3"/>
<path class="k" style="stroke-width:3" d="M521.217 538.548L515.348 544.417L507.331 542.269L505.183 534.252L511.052 528.383L519.069 530.531Z"/>
<circle class="m" cx="513.2" cy="536.4" r="4.3"/>
<path class="c" d="M483.2 536.4L543.2 536.4"/>
<path class="c" d="M513.2 506.4L513.2 566.4"/>
<g transform="rotate(90 553.9 498.2)">
<path class="kw" d="M545.16 498.2V488.552Q545.16 487.64 546.3 487.64H561.5Q562.64 487.64 562.64 488.552V498.2Z"/>
<path class="k" d="M549.72 488.64L549.72 498.2"/>
<path class="k" d="M558.08 488.64L558.08 498.2"/>
<path class="kw" d="M547.44 487.64V483.608C547.44 478.04 550.86 475.352 553.9 475.352C556.94 475.352 560.36 478.04 560.36 483.608V487.64"/>
<path class="m" d="M547.44 483.608L560.36 483.608"/>
<path class="k" d="M546.68 487.064L561.12 487.064"/>
<path class="tc" d="M553.9 472.28L553.9 498.2"/>
</g>
<g transform="rotate(90 553.9 575.2)">
<path class="kw" d="M545.16 575.2V565.552Q545.16 564.64 546.3 564.64H561.5Q562.64 564.64 562.64 565.552V575.2Z"/>
<path class="k" d="M549.72 565.64L549.72 575.2"/>
<path class="k" d="M558.08 565.64L558.08 575.2"/>
<path class="kw" d="M547.44 564.64V560.608C547.44 555.04 550.86 552.352 553.9 552.352C556.94 552.352 560.36 555.04 560.36 560.608V564.64"/>
<path class="m" d="M547.44 560.608L560.36 560.608"/>
<path class="k" d="M546.68 564.064L561.12 564.064"/>
<path class="tc" d="M553.9 549.28L553.9 575.2"/>
</g>
<path class="k" d="M553.9 518.7L578.2 518.7"/>
<path class="k" d="M553.9 554.7L578.2 554.7"/>
<path class="kw" d="M578.2 508.4H622.7Q628.6 520 628.6 536Q628.6 552 622.7 563.6H578.2Z"/>
<path class="k" d="M622.7 508.4L622.7 563.6"/>
<path class="kw" d="M539.8 530.8L560 530L572 528.6H600A7.8 7.8 0 0 1 600 544.2H572L560 542.8L539.8 542"/>
<circle class="kw" cx="613.5" cy="536.4" r="6.4"/>
<g transform="rotate(90 628.6 536.4)">
<path class="kw" d="M621.24 536.4V528.698Q621.24 527.93 622.2 527.93H635Q635.96 527.93 635.96 528.698V536.4Z"/>
<path class="k" d="M625.08 528.93L625.08 536.4"/>
<path class="k" d="M632.12 528.93L632.12 536.4"/>
<path class="kw" d="M623.16 527.93V524.696C623.16 520.23 626.04 518.074 628.6 518.074C631.16 518.074 634.04 520.23 634.04 524.696V527.93"/>
<path class="m" d="M623.16 524.696L634.04 524.696"/>
<path class="k" d="M622.52 527.468L634.68 527.468"/>
<path class="tc" d="M628.6 513.3L628.6 536.4"/>
</g>
<path class="c" d="M510 536.4L660 536.4"/>
<g transform="rotate(180 498.1 624.2)">
<path class="kw" d="M488.67 624.2V614.734Q488.67 613.75 489.9 613.75H506.3Q507.53 613.75 507.53 614.734V624.2Z"/>
<path class="k" d="M493.59 614.75L493.59 624.2"/>
<path class="k" d="M502.61 614.75L502.61 624.2"/>
<path class="kw" d="M491.13 613.75V609.76C491.13 604.25 494.82 601.59 498.1 601.59C501.38 601.59 505.07 604.25 505.07 609.76V613.75"/>
<path class="m" d="M491.13 609.76L505.07 609.76"/>
<path class="k" d="M490.31 613.18L505.89 613.18"/>
</g>
<clipPath id="cpn"><rect x="526" y="620" width="13.6" height="30"/></clipPath><g clip-path="url(#cpn)">
<g transform="rotate(180 536 624.2)">
<path class="kw" d="M526.57 624.2V614.734Q526.57 613.75 527.8 613.75H544.2Q545.43 613.75 545.43 614.734V624.2Z"/>
<path class="k" d="M531.49 614.75L531.49 624.2"/>
<path class="k" d="M540.51 614.75L540.51 624.2"/>
<path class="kw" d="M529.03 613.75V609.76C529.03 604.25 532.72 601.59 536 601.59C539.28 601.59 542.97 604.25 542.97 609.76V613.75"/>
<path class="m" d="M529.03 609.76L542.97 609.76"/>
<path class="k" d="M528.21 613.18L543.79 613.18"/>
</g>
</g>
<rect class="kw" x="508.3" y="624.2" width="18" height="19"/>
<path class="f" style="stroke:#000;stroke-width:1" d="M504.5 643H526.8L530.5 650.3H500.8Z"/>
<path class="k" d="M495.3 650.3L495.3 686L503 688.5L508 685.5"/>
<path class="k" d="M531.4 650.3L531.4 687.5L519 684.2"/>
<path class="k" d="M495.3 650.3L531.4 650.3"/>
<path class="k" style="stroke-width:2.2" d="M507.5 687Q509 681.5 514.5 681.5Q518 681.5 519 684"/>
<path class="t" d="M509 686.8L522 686.8"/>
<path class="t" d="M116.4 572L116.4 689"/>
<path class="t" d="M646.7 541L646.7 689"/>
<path class="t" d="M116.4 686.5L646.7 686.5"/>
<text class="tx" x="380" y="684.5" font-size="5" text-anchor="middle">522*</text>
<text class="tx" x="468.3" y="613.1" font-size="8.5" text-anchor="start">8</text>
<path class="t" d="M467 614.7L479 614.7"/>
<path class="t" d="M479 614.7L486 612.5L494.2 606.9"/>
<text class="tx" x="463.2" y="645.3" font-size="8.5" text-anchor="start">50</text>
<path class="t" d="M462 646.9L478.5 646.9"/>
<path class="t" d="M462 649.5L478.5 649.5"/>
<path class="t" d="M478.5 646.9L503.6 662.6"/>
<path class="k2" d="M513.2 689.3L513.2 703"/>
<path class="t" d="M500 695.6L513.2 695.6"/>
<text class="tx" x="497" y="705" font-size="8" text-anchor="start">Б</text>
</g>
<g id="v3">
<path class="kw" d="M737.8 206V160.8L745.4 155.8H786.2L793.7 160.8V206Z"/>
<path class="k" d="M737.8 160.8L793.7 160.8"/>
<g>
<path class="kw" d="M757.795 155.8V148.244Q757.795 147.44 758.8 147.44H772.2Q773.205 147.44 773.205 148.244V155.8Z"/>
<path class="k" d="M761.815 148.44L761.815 155.8"/>
<path class="k" d="M769.185 148.44L769.185 155.8"/>
<path class="kw" d="M759.805 147.44V144.248C759.805 139.84 762.82 137.712 765.5 137.712C768.18 137.712 771.195 139.84 771.195 144.248V147.44"/>
<path class="m" d="M759.805 144.248L771.195 144.248"/>
<path class="k" d="M759.135 146.984L771.865 146.984"/>
<path class="tc" d="M765.5 133.76L765.5 155.8"/>
</g>
<circle class="k" style="stroke-width:1.8" cx="765.5" cy="170.9" r="7.3"/>
<path class="t" d="M754.5 170.9L776.5 170.9"/>
<path class="t" d="M765.5 160L765.5 182"/>
<rect class="kw" x="721.5" y="230.2" width="87.9" height="66.4"/>
<path class="k" d="M721.5 245.9L809.4 245.9"/>
<clipPath id="c44"><path clip-rule="evenodd" d="M722 255.2L746 255.2L746 260.3L722 260.3Z"/></clipPath>
<path class="hd" clip-path="url(#c44)" d="M713.8 257.7L734.0 237.6M715.9 259.9L736.1 239.7M718.1 262.0L738.2 241.8M720.2 264.1L740.4 243.9M722.3 266.2L742.5 246.1M724.4 268.4L744.6 248.2M726.5 270.5L746.7 250.3M728.7 272.6L748.8 252.4M730.8 274.7L751.0 254.5M732.9 276.8L753.1 256.7M735.0 279.0L755.2 258.8"/>
<path class="t" d="M721.5 256.7Q727 253.7 733 256T746 254.7"/>
<path class="t" d="M721.5 260.3Q728 261.8 734 259.8T746 260.3"/>
<clipPath id="c45"><path clip-rule="evenodd" d="M722 280.5L746 280.5L746 285.8L722 285.8Z"/></clipPath>
<path class="hd" clip-path="url(#c45)" d="M711.7 281.1L731.9 260.9M713.8 283.2L734.0 263.0M716.0 285.3L736.2 265.1M718.1 287.4L738.3 267.2M720.2 289.6L740.4 269.3M722.3 291.7L742.5 271.5M724.4 293.8L744.6 273.6M726.6 295.9L746.8 275.7M728.7 298.0L748.9 277.8M730.8 300.2L751.0 280.0M732.9 302.3L753.1 282.1M735.0 304.4L755.3 284.2"/>
<path class="t" d="M721.5 282Q727 279 733 281.3T746 280"/>
<path class="t" d="M721.5 285.8Q728 287.3 734 285.3T746 285.8"/>
<path class="k" d="M721.5 261.6L742.2 261.6L742.2 279.8L721.5 279.8"/>
<rect class="k" x="742.2" y="262.5" width="3.6" height="16.5"/>
<path class="t" d="M719 271.4L761.7 271.4"/>
<g>
<path class="kw" d="M724.605 230.2V221.086Q724.605 219.97 726 219.97H744.6Q745.995 219.97 745.995 221.086V230.2Z"/>
<path class="k" d="M730.185 220.97L730.185 230.2"/>
<path class="k" d="M740.415 220.97L740.415 230.2"/>
<path class="kw" d="M727.395 219.97V216.064C727.395 210.67 731.58 208.066 735.3 208.066C739.02 208.066 743.205 210.67 743.205 216.064V219.97"/>
<path class="m" d="M727.395 216.064L743.205 216.064"/>
<path class="k" d="M726.465 219.412L744.135 219.412"/>
<path class="tc" d="M735.3 205.09L735.3 230.2"/>
</g>
<clipPath id="cp38"><rect x="798.8" y="200" width="12" height="31"/></clipPath><g clip-path="url(#cp38)">
<g>
<path class="kw" d="M785.805 230.2V221.086Q785.805 219.97 787.2 219.97H805.8Q807.195 219.97 807.195 221.086V230.2Z"/>
<path class="k" d="M791.385 220.97L791.385 230.2"/>
<path class="k" d="M801.615 220.97L801.615 230.2"/>
<path class="kw" d="M788.595 219.97V216.064C788.595 210.67 792.78 208.066 796.5 208.066C800.22 208.066 804.405 210.67 804.405 216.064V219.97"/>
<path class="m" d="M788.595 216.064L804.405 216.064"/>
<path class="k" d="M787.665 219.412L805.335 219.412"/>
</g>
</g>
<path class="kw" d="M782.4 178.4H796.3Q798.8 178.4 798.8 181V287.2Q798.8 289.8 796.3 289.8H782.4Z"/>
<path class="m" d="M796.6 181L796.6 287"/>
<path class="kw" d="M747.3 283.5V185.5Q747.3 183 749.8 183H782.4V283.5Z"/>
<path class="m" d="M750.8 283.5L750.8 186L782 186"/>
<path class="k" style="stroke-width:2.2" d="M781.9 183L781.9 289.8"/>
<path class="k" d="M747.6 283.5L747.6 298.8"/>
<path class="kw" d="M751.7 290.5V287Q765.5 280.5 779.3 287V290.5Z"/>
<path class="m" d="M753.5 287.5Q765.5 283.5 777.5 287.5"/>
<rect class="kw" x="756" y="290.5" width="18.9" height="8.3"/>
<path class="k" d="M712.7 296.5L747.3 296.5"/>
<path class="k" d="M782.4 296.5L853.3 296.5L853.3 382.6"/>
<path class="k" d="M712.7 296.5L712.7 432.8"/>
<path class="k" d="M829.5 296.5L829.5 382.6"/>
<rect class="kw" x="783.7" y="293.8" width="11.3" height="13.2"/>
<path class="k" d="M787.5 293.8L787.5 307"/>
<rect class="kw" x="749.8" y="298.8" width="32" height="30.8"/>
<path class="k" style="stroke-width:2.6" d="M750.6 298.8L750.6 329.6"/>
<path class="k" style="stroke-width:2" d="M766.1 298.8L766.1 329.6"/>
<path class="k" style="stroke-width:2.4" d="M750.4 329.6L750.4 336"/>
<path class="k" style="stroke-width:2.2" d="M781.6 329.6L781.6 336"/>
<rect class="kw" x="729.7" y="357.9" width="72.2" height="24.7"/>
<g>
<path class="kw" d="M733.9 357.9V348.1Q733.9 346.9 735.4 346.9H755.4Q756.9 346.9 756.9 348.1V357.9Z"/>
<path class="k" d="M739.9 347.9L739.9 357.9"/>
<path class="k" d="M750.9 347.9L750.9 357.9"/>
<path class="kw" d="M736.9 346.9V342.7C736.9 336.9 741.4 334.1 745.4 334.1C749.4 334.1 753.9 336.9 753.9 342.7V346.9"/>
<path class="m" d="M736.9 342.7L753.9 342.7"/>
<path class="k" d="M735.9 346.3L754.9 346.3"/>
</g>
<g>
<path class="kw" d="M774.1 357.9V348.1Q774.1 346.9 775.6 346.9H795.6Q797.1 346.9 797.1 348.1V357.9Z"/>
<path class="k" d="M780.1 347.9L780.1 357.9"/>
<path class="k" d="M791.1 347.9L791.1 357.9"/>
<path class="kw" d="M777.1 346.9V342.7C777.1 336.9 781.6 334.1 785.6 334.1C789.6 334.1 794.1 336.9 794.1 342.7V346.9"/>
<path class="m" d="M777.1 342.7L794.1 342.7"/>
<path class="k" d="M776.1 346.3L795.1 346.3"/>
</g>
<rect class="k" x="712.7" y="382.6" width="106.2" height="50.2"/>
<path class="k" d="M712.7 382.6L853.3 382.6"/>
<circle class="k" style="stroke-width:2" cx="765.2" cy="407.9" r="5.6"/>
<circle class="m" cx="765.2" cy="407.9" r="3.2"/>
<circle class="m" cx="765.2" cy="407.9" r="1.5"/>
<path class="t" d="M755 407.9L776 407.9"/>
<path class="c" d="M765.5 178L765.5 436"/>
<path class="c" d="M735.1 203L735.1 408"/>
<path class="c" d="M796.3 300L796.3 408"/>
<g transform="rotate(90 853.3 309.3)">
<path class="kw" d="M841.8 309.3V299.5Q841.8 298.3 843.3 298.3H863.3Q864.8 298.3 864.8 299.5V309.3Z"/>
<path class="k" d="M847.8 299.3L847.8 309.3"/>
<path class="k" d="M858.8 299.3L858.8 309.3"/>
<path class="kw" d="M844.8 298.3V294.1C844.8 288.3 849.3 285.5 853.3 285.5C857.3 285.5 861.8 288.3 861.8 294.1V298.3"/>
<path class="m" d="M844.8 294.1L861.8 294.1"/>
<path class="k" d="M843.8 297.7L862.8 297.7"/>
</g>
<g transform="rotate(90 853.3 370.5)">
<path class="kw" d="M841.8 370.5V360.7Q841.8 359.5 843.3 359.5H863.3Q864.8 359.5 864.8 360.7V370.5Z"/>
<path class="k" d="M847.8 360.5L847.8 370.5"/>
<path class="k" d="M858.8 360.5L858.8 370.5"/>
<path class="kw" d="M844.8 359.5V355.3C844.8 349.5 849.3 346.7 853.3 346.7C857.3 346.7 861.8 349.5 861.8 355.3V359.5"/>
<path class="m" d="M844.8 355.3L861.8 355.3"/>
<path class="k" d="M843.8 358.9L862.8 358.9"/>
</g>
<rect class="kw" x="853.3" y="323.4" width="19.5" height="32"/>
<path class="k" d="M872.2 323.4L872.2 355.4"/>
<rect class="f" x="875.8" y="322.1" width="4.2" height="34.6"/>
<path class="kw" d="M879.7 322.1H931.2L946.9 336V356.7H879.7Z"/>
<path class="k" d="M926.8 322.1L926.8 356.7"/>
<rect class="f" x="904.5" y="309.2" width="14.2" height="8.5"/>
<path class="k" d="M906.5 317.7V322.1M916.5 317.7V322.1M907 319.5Q911.5 324 916 319.5"/>
<path class="c" d="M797 309.4L882 309.4"/>
<path class="c" d="M768 339.2L952 339.2"/>
<path class="c" d="M798 370.4L882 370.4"/>
<path class="kw" d="M759.2 432.8C757.5 455 756.3 470 757 486C757.5 496 761 501.7 765.8 501.7C770.5 501.7 774 496 774.6 486C775.3 470 774.2 455 772.4 432.8"/>
<path class="c" d="M765.5 436L765.5 506"/>
<path class="k" d="M757.5 432.8Q765.5 437 774 432.8"/>
<path class="t" d="M680.7 137.6L765.5 137.6"/>
<path class="t" d="M682.6 137.6L682.6 502.6"/>
<path class="t" d="M676 502.6L762 502.6"/>
<path class="f" d="M682.6 137.6L681.2 144H684Z"/>
<path class="f" d="M682.6 502.6L681.2 496H684Z"/>
<text class="tx" x="680.6" y="320" font-size="5" text-anchor="middle" transform="rotate(-90 680.6 320)">345*</text>
<path class="t" d="M712.7 432.8L712.7 513"/>
<path class="t" d="M946.9 356.7L946.9 513"/>
<path class="t" d="M712.7 510.4L946.9 510.4"/>
<text class="tx" x="830" y="508.6" font-size="5" text-anchor="middle">231*</text>
<path class="t" d="M703.3 292.6L741.6 292.6"/>
<text class="tx" x="705" y="291" font-size="5.4" text-anchor="start">20*</text>
<path class="t" d="M695.1 307.4L744.1 307.4"/>
<text class="tx" x="697" y="305.8" font-size="5.4" text-anchor="start">22*</text>
<path class="t" d="M721.5 296.5L721.5 311"/>
<path class="t" d="M744.1 285L744.1 311"/>
<path class="t" d="M741.6 285L741.6 296"/>
<text class="tx" x="693" y="262.3" font-size="8.5" text-anchor="start">А</text>
<path class="t" d="M689.5 269.1L705.8 269.1"/>
<text class="tx" x="717.5" y="153.2" font-size="8.5" text-anchor="start">37</text>
<path class="t" d="M717 154.8L735 154.8"/>
<path class="t" d="M735 154.8L757.9 146.6"/>
<text class="tx" x="718" y="187.7" font-size="8.5" text-anchor="start">38</text>
<path class="t" d="M718 189.3L733 189.3"/>
<path class="t" d="M733 189.3L736 205.4"/>
</g>
<g id="v4">
<text class="tx" x="960.5" y="140.8" font-size="9" text-anchor="start">А</text>
<path class="k" d="M936.4 237.5V169.5C941 166 948 165.3 954 166.5C962 168 968 170 975 169.6C980 169.3 984 168.6 987 168.4V236"/>
<path class="w" style="stroke:#fff;stroke-width:2.2;fill:none" d="M936.4 169.5C941 166 948 165.3 954 166.5C962 168 968 170 975 169.6C980 169.3 984 168.6 987 168.4"/>
<path class="t" d="M936.4 169.5C941 166 948 165.3 954 166.5C962 168 968 170 975 169.6C980 169.3 984 168.6 987 168.4"/>
<path class="t" d="M936.4 237.5C945 238.5 956 233 966 232.5C975 232.2 981 234.5 987 236"/>
<path class="k" style="stroke-width:1.8" d="M936.4 176.9L987 176.9"/>
<path class="k" style="stroke-width:1.8" d="M936.4 227.4L987 227.4"/>
<circle class="k" style="stroke-width:2" cx="955.9" cy="202.3" r="8.8"/>
<circle class="k" style="stroke-width:2" cx="955.9" cy="202.3" r="4.3"/>
<circle class="m" cx="955.9" cy="202.3" r="1.6"/>
<path class="t" d="M940 202.3L1004 202.3"/>
<path class="t" d="M955.9 156L955.9 218"/>
<path class="t" d="M963.5 198.6L973 194"/>
<path class="t" d="M963 206.5L967 208.3"/>
<path class="t" d="M958 192L962 190.5"/>
<path class="t" d="M936.4 156L936.4 170"/>
<path class="t" d="M936.4 158.7L955.9 158.7"/>
<text class="tx" x="946" y="157" font-size="4.8" text-anchor="middle">19*</text>
<path class="t" d="M987 176.9L1004 176.9"/>
<path class="t" d="M1001.1 176.9L1001.1 202.3"/>
<text class="tx" x="999.3" y="190" font-size="4.8" text-anchor="middle" transform="rotate(-90 999.3 190)">24*</text>
<text class="tx" x="917" y="187.7" font-size="5" text-anchor="start">Ø8*</text>
<path class="t" d="M917 189.3L931 189.3"/>
<path class="t" d="M931 189.3L947.1 197.2"/>
<text class="tx" x="914.4" y="212.8" font-size="5" text-anchor="start">M18*</text>
<path class="t" d="M914 214.4L931 214.4"/>
<path class="t" d="M931 214.4L934 213.5L946.5 206.7"/>
</g>
<g id="v5">
<text class="tx" x="839" y="529.6" font-size="9" text-anchor="start">Б-Б</text>
<circle class="t" cx="863.2" cy="526.2" r="2.7"/>
<path class="f" d="M864.5 523.2L867 524.4L865 526Z"/>
<clipPath id="c46"><path clip-rule="evenodd" d="M783.7 570.9L795 566.3L812 558.4L825.4 555.8L831.7 556.3L831.7 632.7L783.7 632.7Z"/></clipPath>
<path class="h" clip-path="url(#c46)" d="M739.4 592.8L806.3 525.9M743.6 597.1L810.5 530.1M747.8 601.3L814.8 534.4M752.1 605.6L819.0 538.6M756.3 609.8L823.3 542.9M760.6 614.0L827.5 547.1M764.8 618.3L831.7 551.4M769.1 622.5L836.0 555.6M773.3 626.8L840.2 559.8M777.5 631.0L844.5 564.1M781.8 635.3L848.7 568.3M786.0 639.5L853.0 572.6M790.3 643.7L857.2 576.8M794.5 648.0L861.4 581.1M798.8 652.2L865.7 585.3M803.0 656.5L869.9 589.5M807.2 660.7L874.2 593.8M811.5 665.0L878.4 598.0"/>
<clipPath id="c47"><path clip-rule="evenodd" d="M841.7 559.3L845.5 559.5L860 557.2L875.6 555L900.2 553.8L900.2 571.5L886 571.5L886 576.6L877 576.6L877 584.4L842.3 584.4L841.7 585Z"/></clipPath>
<path class="h" clip-path="url(#c47)" d="M817.5 565.6L867.2 515.9M821.7 569.9L871.4 520.2M826.0 574.1L875.7 524.4M830.2 578.4L879.9 528.6M834.4 582.6L884.2 532.9M838.7 586.8L888.4 537.1M842.9 591.1L892.6 541.4M847.2 595.3L896.9 545.6M851.4 599.6L901.1 549.9M855.7 603.8L905.4 554.1M859.9 608.1L909.6 558.3M864.1 612.3L913.8 562.6M868.4 616.5L918.1 566.8M872.6 620.8L922.3 571.1"/>
<clipPath id="c48"><path clip-rule="evenodd" d="M841.7 595L842.3 595.6L877 595.6L877 603.4L886 603.4L886 608.8L900.2 608.8L900.2 632.7L841.7 632.7Z"/></clipPath>
<path class="h" clip-path="url(#c48)" d="M815.3 610.2L867.3 558.2M819.5 614.5L871.6 562.4M823.8 618.7L875.8 566.7M828.0 623.0L880.1 570.9M832.3 627.2L884.3 575.2M836.5 631.4L888.5 579.4M840.7 635.7L892.8 583.6M845.0 639.9L897.0 587.9M849.2 644.2L901.3 592.1M853.5 648.4L905.5 596.4M857.7 652.7L909.8 600.6M862.0 656.9L914.0 604.9M866.2 661.1L918.2 609.1M870.4 665.4L922.5 613.3M874.7 669.6L926.7 617.6"/>
<path class="t" d="M783.7 570.9C795 566 812 557 825.4 555.8C832 555.4 838 559.5 845.5 559.5C856 559.3 866 555.3 875.6 555C890 554.6 898 554 900.2 553.8"/>
<path class="k" d="M783.7 570.9L783.7 684"/>
<path class="k" d="M831.7 556.3L831.7 648"/>
<path class="k" d="M841.7 559.3L841.7 585"/>
<path class="k" d="M841.7 595L841.7 648"/>
<path class="cg" d="M836.7 553L836.7 650"/>
<path class="k" d="M783.7 632.7L900.2 632.7"/>
<path class="k" style="stroke-width:1.8" d="M876.9 584.4H842.3L836 590L842.3 595.6H876.9"/>
<path class="m" d="M842.3 584.4L842.3 595.6"/>
<rect class="f" x="877" y="576.6" width="4.2" height="26.8"/>
<rect class="kw" x="881.2" y="576.6" width="12.4" height="26.8"/>
<path class="k" d="M884 577L884 603"/>
<rect class="f" x="886" y="571.5" width="8" height="5"/>
<rect class="f" x="886" y="603.4" width="8" height="5.2"/>
<rect class="kw" x="893.9" y="571.5" width="10" height="37.1"/>
<rect class="kw" x="903.9" y="574" width="39.6" height="31.5"/>
<clipPath id="c49"><path clip-rule="evenodd" d="M900.2 553.8L924.6 553.2L924.6 568L910 568L910 564.5L903.9 564.5L903.9 571.5L900.2 571.5Z"/></clipPath>
<path class="hd" clip-path="url(#c49)" d="M913.3 537.1L937.7 561.5M911.3 539.1L935.7 563.5M909.3 541.0L933.7 565.4M907.3 543.0L931.7 567.4M905.3 545.0L929.7 569.4M903.4 547.0L927.8 571.4M901.4 549.0L925.8 573.4M899.4 550.9L923.8 575.3M897.4 552.9L921.8 577.3M895.4 554.9L919.8 579.3M893.5 556.9L917.9 581.3M891.5 558.9L915.9 583.3M889.5 560.8L913.9 585.2M887.5 562.8L911.9 587.2"/>
<path class="k" d="M924.6 553.2L924.6 568L910 568L910 564.5L903.9 564.5L903.9 571.5L900.2 571.5L900.2 553.8"/>
<path class="t" d="M900.2 553.8L924.6 553.2"/>
<clipPath id="c50"><path clip-rule="evenodd" d="M903.9 568.5L924.6 568.5L924.6 573.5L903.9 573.5Z"/></clipPath>
<path class="hd" clip-path="url(#c50)" d="M919.3 553.5L932.0 575.4M918.1 554.2L930.7 576.1M916.9 554.9L929.5 576.8M915.7 555.6L928.3 577.5M914.5 556.3L927.1 578.2M913.2 557.0L925.9 578.9M912.0 557.7L924.7 579.6M910.8 558.4L923.5 580.3M909.6 559.1L922.3 581.0M908.4 559.8L921.0 581.7M907.2 560.5L919.8 582.4M906.0 561.2L918.6 583.1M904.8 561.9L917.4 583.8M903.5 562.6L916.2 584.5M902.3 563.3L915.0 585.2M901.1 564.0L913.8 585.9M899.9 564.7L912.6 586.6M898.7 565.4L911.3 587.3M897.5 566.1L910.1 588.0M896.3 566.8L908.9 588.7"/>
<clipPath id="c51"><path clip-rule="evenodd" d="M903.9 564.5L910 564.5L910 568.5L903.9 568.5Z"/></clipPath>
<path class="hd" clip-path="url(#c51)" d="M898.8 566.3L906.8 558.3M899.8 567.3L907.8 559.3M900.8 568.3L908.8 560.3M901.8 569.3L909.8 561.3M902.8 570.3L910.7 562.3M903.7 571.3L911.7 563.3M904.7 572.3L912.7 564.3M905.7 573.3L913.7 565.3M906.7 574.3L914.7 566.3M907.7 575.2L915.7 567.3"/>
<clipPath id="c52"><path clip-rule="evenodd" d="M900.2 608.8L903.9 608.8L903.9 613L910 613L910 610L924.6 610L924.6 632.7L900.2 632.7Z"/></clipPath>
<path class="hd" clip-path="url(#c52)" d="M913.0 593.1L940.0 620.1M911.2 595.0L938.2 622.0M909.4 596.8L936.3 623.8M907.5 598.7L934.5 625.6M905.7 600.5L932.7 627.5M903.8 602.3L930.8 629.3M902.0 604.2L929.0 631.1M900.2 606.0L927.1 633.0M898.3 607.8L925.3 634.8M896.5 609.7L923.5 636.7M894.6 611.5L921.6 638.5M892.8 613.4L919.8 640.3M891.0 615.2L918.0 642.2M889.1 617.0L916.1 644.0M887.3 618.9L914.3 645.9M885.5 620.7L912.4 647.7M883.6 622.6L910.6 649.5"/>
<path class="k" d="M900.2 608.8L903.9 608.8L903.9 613L910 613L910 610L924.6 610L924.6 632.7L900.2 632.7Z"/>
<clipPath id="c53"><path clip-rule="evenodd" d="M903.9 606L924.6 606L924.6 610L903.9 610Z"/></clipPath>
<path class="hd" clip-path="url(#c53)" d="M919.6 590.4L932.2 612.1M918.4 591.1L930.9 612.8M917.2 591.8L929.7 613.5M916.0 592.5L928.5 614.2M914.8 593.2L927.3 614.9M913.6 593.9L926.1 615.6M912.3 594.6L924.9 616.3M911.1 595.3L923.7 617.0M909.9 596.0L922.5 617.7M908.7 596.7L921.2 618.4M907.5 597.4L920.0 619.1M906.3 598.1L918.8 619.8M905.1 598.8L917.6 620.5M903.9 599.5L916.4 621.2M902.6 600.2L915.2 621.9M901.4 600.9L914.0 622.6M900.2 601.6L912.8 623.3M899.0 602.3L911.5 624.0M897.8 603.0L910.3 624.7M896.6 603.7L909.1 625.4"/>
<clipPath id="c54"><path clip-rule="evenodd" d="M903.9 609L910 609L910 613L903.9 613Z"/></clipPath>
<path class="hd" clip-path="url(#c54)" d="M898.3 610.4L906.3 602.4M899.3 611.3L907.3 603.4M900.3 612.3L908.3 604.4M901.3 613.3L909.3 605.3M902.3 614.3L910.3 606.3M903.3 615.3L911.3 607.3M904.3 616.3L912.2 608.3M905.3 617.3L913.2 609.3M906.2 618.3L914.2 610.3M907.2 619.3L915.2 611.3"/>
<path class="k" d="M900.2 553.8L900.2 571.5"/>
<path class="k" d="M924.6 552.5L924.6 574"/>
<rect class="f" x="943.5" y="572.8" width="7.5" height="35.4"/>
<path class="kw" d="M951 572.8H1003.2L1019.5 587.2V608H951Z"/>
<path class="k" d="M998.8 572.8L998.8 608"/>
<path class="f" style="stroke:#000;stroke-width:0.8" d="M975.5 568.4V561Q975.5 559.2 977.3 559.2H989.1Q990.9 559.2 990.9 561V568.4Z"/>
<path class="k" d="M978 568.4V572.8M989 568.4V572.8M978.5 570.5Q983.5 574.5 988.5 570.5"/>
<g transform="rotate(90 924.6 620.2)">
<path class="kw" d="M913.445 620.2V610.694Q913.445 609.53 914.9 609.53H934.3Q935.755 609.53 935.755 610.694V620.2Z"/>
<path class="k" d="M919.265 610.53L919.265 620.2"/>
<path class="k" d="M929.935 610.53L929.935 620.2"/>
<path class="kw" d="M916.355 609.53V605.456C916.355 599.83 920.72 597.114 924.6 597.114C928.48 597.114 932.845 599.83 932.845 605.456V609.53"/>
<path class="m" d="M916.355 605.456L932.845 605.456"/>
<path class="k" d="M915.385 608.948L933.815 608.948"/>
</g>
<path class="cg" d="M838 590L1022 590"/>
<clipPath id="c55"><path clip-rule="evenodd" d="M783.7 632.7L890 632.7L890 684L783.7 684ZM831.7 632.7L841.7 632.7L841.7 650L831.7 650ZM848 658.4L847.615 661.325L846.486 664.05L844.69 666.39L842.35 668.186L839.625 669.315L836.7 669.7L833.775 669.315L831.05 668.186L828.71 666.39L826.914 664.05L825.785 661.325L825.4 658.4L825.785 655.475L826.914 652.75L828.71 650.41L831.05 648.614L833.775 647.485L836.7 647.1L839.625 647.485L842.35 648.614L844.69 650.41L846.486 652.75L847.615 655.475ZM807 658.4L806.727 660.471L805.928 662.4L804.657 664.057L803 665.328L801.071 666.127L799 666.4L796.929 666.127L795 665.328L793.343 664.057L792.072 662.4L791.273 660.471L791 658.4L791.273 656.329L792.072 654.4L793.343 652.743L795 651.472L796.929 650.673L799 650.4L801.071 650.673L803 651.472L804.657 652.743L805.928 654.4L806.727 656.329ZM882.7 658.4L882.427 660.471L881.628 662.4L880.357 664.057L878.7 665.328L876.771 666.127L874.7 666.4L872.629 666.127L870.7 665.328L869.043 664.057L867.772 662.4L866.973 660.471L866.7 658.4L866.973 656.329L867.772 654.4L869.043 652.743L870.7 651.472L872.629 650.673L874.7 650.4L876.771 650.673L878.7 651.472L880.357 652.743L881.628 654.4L882.427 656.329Z"/></clipPath>
<path class="h" clip-path="url(#c55)" d="M840.0 568.9L926.3 655.2M835.0 573.9L921.3 660.2M830.0 578.9L916.3 665.2M824.9 584.0L911.2 670.3M819.9 589.0L906.2 675.3M814.9 594.0L901.2 680.3M809.9 599.0L896.2 685.3M804.9 604.0L891.2 690.3M799.8 609.1L886.1 695.4M794.8 614.1L881.1 700.4M789.8 619.1L876.1 705.4M784.8 624.1L871.1 710.4M779.8 629.1L866.1 715.4M774.7 634.2L861.0 720.5M769.7 639.2L856.0 725.5M764.7 644.2L851.0 730.5M759.7 649.2L846.0 735.5M754.7 654.3L840.9 740.5M749.6 659.3L835.9 745.6"/>
<path class="k" d="M783.7 684L890 684L890 632.7"/>
<path class="k" style="stroke-width:1.2" d="M831.7 648.5A11.2 11.2 0 1 0 841.7 648.5"/>
<path class="k" style="stroke-width:1.2" d="M832.8 650.3A9.2 9.2 0 1 0 840.6 650.3"/>
<path class="k" style="stroke-width:1.2" d="M831.7 648.5Q833.5 648.5 832.8 650.3M841.7 648.5Q840 648.5 840.6 650.3"/>
<clipPath id="c56"><path clip-rule="evenodd" d="M842.9 658.4L842.689 660.005L842.069 661.5L841.084 662.784L839.8 663.769L838.305 664.389L836.7 664.6L835.095 664.389L833.6 663.769L832.316 662.784L831.331 661.5L830.711 660.005L830.5 658.4L830.711 656.795L831.331 655.3L832.316 654.016L833.6 653.031L835.095 652.411L836.7 652.2L838.305 652.411L839.8 653.031L841.084 654.016L842.069 655.3L842.689 656.795Z"/></clipPath>
<path class="hd" clip-path="url(#c56)" d="M821.5 658.4L836.7 643.2M822.6 659.5L837.8 644.3M823.7 660.6L838.9 645.4M824.8 661.8L840.1 646.5M826.0 662.9L841.2 647.7M827.1 664.0L842.3 648.8M828.2 665.2L843.5 649.9M829.4 666.3L844.6 651.1M830.5 667.4L845.7 652.2M831.6 668.6L846.9 653.3M832.8 669.7L848.0 654.5M833.9 670.8L849.1 655.6M835.0 672.0L850.3 656.7M836.2 673.1L851.4 657.9M837.3 674.2L852.5 659.0"/>
<circle class="k" style="stroke-width:1.8" cx="836.7" cy="658.4" r="6.4"/>
<path class="t" d="M820.7 658.4L852.7 658.4"/>
<path class="t" d="M836.7 645.4L836.7 675.4"/>
<circle class="k" style="stroke-width:4.6" cx="799" cy="658.4" r="5.7"/>
<path class="t" d="M788 658.4L810 658.4"/>
<path class="t" d="M799 647.4L799 669.4"/>
<circle class="k" style="stroke-width:4.6" cx="874.7" cy="658.4" r="5.7"/>
<path class="t" d="M863.7 658.4L885.7 658.4"/>
<path class="t" d="M874.7 647.4L874.7 669.4"/>
<path class="k" d="M830.4 684V697L834 698.5L838 696.2L843.6 699.5V684"/>
<path class="k" d="M826 684Q836.7 687.5 847 684"/>
<path class="t" d="M870 536.4L893.8 536.4"/>
<path class="t" d="M870 536.4L870 609"/>
<text class="tx" x="877" y="534.6" font-size="5" text-anchor="start">Ø33*</text>
<path class="t" d="M876.3 549.3L903.9 549.3"/>
<path class="t" d="M876.3 549.3L876.3 577"/>
<text class="tx" x="882" y="547.5" font-size="5" text-anchor="start">Ø20,2*</text>
<path class="t" d="M866 570.6L894 570.6"/>
<path class="t" d="M866 609.2L894 609.2"/>
<path class="t" d="M873 576.6L880 576.6"/>
<path class="t" d="M873 603.4L880 603.4"/>
<text class="tx" x="764.4" y="627" font-size="8.5" text-anchor="start">7</text>
<path class="t" d="M763 628.6L774 628.6"/>
<path class="t" d="M763 631.2L774 631.2"/>
<path class="t" d="M774 628.6L783 626L793.3 620.7"/>
<text class="tx" x="758.8" y="656.8" font-size="8.5" text-anchor="start">27</text>
<path class="t" d="M757.5 658.4L774 658.4"/>
<path class="t" d="M757.5 661L774 661"/>
<path class="t" d="M774 658.4L787 676.6"/>
<text class="tx" x="909.6" y="657.2" font-size="8.5" text-anchor="start">35</text>
<path class="t" d="M903.3 658.8L919.6 658.8"/>
<path class="t" d="M903.3 661.4L919.6 661.4"/>
<path class="t" d="M903.3 658.8L892.6 607.6"/>
<text class="tx" x="940" y="657.2" font-size="8.5" text-anchor="start">8</text>
<path class="t" d="M934 658.8L945.5 658.8"/>
<path class="t" d="M934 661.4L945.5 661.4"/>
<path class="t" d="M934 658.8L922 634"/>
<text class="tx" x="968.5" y="657.2" font-size="8.5" text-anchor="start">15</text>
<path class="t" d="M962.7 658.8L977.5 658.8"/>
<path class="t" d="M962.7 661.4L977.5 661.4"/>
<path class="t" d="M962.7 658.8L927.2 618.3"/>
<text class="tx" x="983.7" y="657.2" font-size="8.5" text-anchor="start">50</text>
<path class="t" d="M983 658.8L999.6 658.8"/>
<path class="t" d="M983 661.4L999.6 661.4"/>
<path class="t" d="M999.6 658.8L1007 600.7"/>
</g>
<g id="v6">
<path class="iso" d="M1001.3 418.2L1001.3 440.8L1119.4 482.9"/>
<path class="iso" d="M1001.3 418.2L1142.6 466"/>
<path class="iso" d="M1001.3 418.2L1005.7 415.2"/>
<path class="iso" d="M1068 409.5L1139.5 433.3"/>
<path class="iso" d="M1005.7 405L1005.7 416.3L1047.8 430.2L1066.9 415.7L1067.3 405.7L1047.8 418.8L1005.7 405L1025.5 391.5"/>
<path class="iso" d="M1047.8 418.8L1047.8 430.2"/>
<path class="iso" d="M1067.3 405.7L1046 398.5"/>
<path class="isow" d="M1028.3 384V399Q1029.5 405 1037 405Q1044 404 1044.6 398.5V380"/>
<path class="iso" d="M1036.5 384V398"/>
<g transform="rotate(-13 1027.7 357.8)">
<path class="isow" d="M1040.1 328.4A23 26.9 0 0 1 1040.1 382.2L1027.7 384.7A23 26.9 0 0 1 1027.7 330.9Z"/>
<ellipse class="isow" cx="1027.7" cy="357.8" rx="23" ry="26.9"/>
<ellipse class="iso" cx="1029.3" cy="357.5" rx="21.8" ry="25.7"/>
<path class="iso" d="M1032.2 331.2A23 26.9 0 0 1 1032.2 384.2"/>
<path class="iso" d="M1033.6 330.7A23 26.9 0 0 1 1033.6 383.9"/>
</g>
<path class="isow" d="M1021.32 396.02V391.7L1023.89 392.96L1028.57 392.42L1030.68 390.8V395.3L1028.57 397.46L1023.89 398Z"/>
<path class="iso" d="M1023.89 398V392.96M1028.57 397.46V392.42"/>
<path class="isow" d="M1022.26 391.52C1022.26 388.1 1024.65 384.95 1026 384.95C1027.35 384.95 1029.74 387.65 1029.74 390.98"/>
<path class="iso" style="stroke-width:1.1" d="M1022.26 391.34Q1026 393.5 1029.74 390.8"/>
<path class="isow" d="M1011.8 405.3V400.5L1014.66 401.9L1019.86 401.3L1022.2 399.5V404.5L1019.86 406.9L1014.66 407.5Z"/>
<path class="iso" d="M1014.66 407.5V401.9M1019.86 406.9V401.3"/>
<path class="isow" d="M1012.84 400.3C1012.84 396.5 1015.5 393 1017 393C1018.5 393 1021.16 396 1021.16 399.7"/>
<path class="iso" style="stroke-width:1.1" d="M1012.84 400.1Q1017 402.5 1021.16 399.5"/>
<path class="isow" d="M1050.8 404.8V400L1053.66 401.4L1058.86 400.8L1061.2 399V404L1058.86 406.4L1053.66 407Z"/>
<path class="iso" d="M1053.66 407V401.4M1058.86 406.4V400.8"/>
<path class="isow" d="M1051.84 399.8C1051.84 396 1054.5 392.5 1056 392.5C1057.5 392.5 1060.16 395.5 1060.16 399.2"/>
<path class="iso" style="stroke-width:1.1" d="M1051.84 399.6Q1056 402 1060.16 399"/>
<path class="isow" d="M1039.4 415.3V410.5L1042.26 411.9L1047.46 411.3L1049.8 409.5V414.5L1047.46 416.9L1042.26 417.5Z"/>
<path class="iso" d="M1042.26 417.5V411.9M1047.46 416.9V411.3"/>
<path class="isow" d="M1040.44 410.3C1040.44 406.5 1043.1 403 1044.6 403C1046.1 403 1048.76 406 1048.76 409.7"/>
<path class="iso" style="stroke-width:1.1" d="M1040.44 410.1Q1044.6 412.5 1048.76 409.5"/>
<path class="isow" d="M1066.5 423.8V419L1069.36 420.4L1074.56 419.8L1076.9 418V423L1074.56 425.4L1069.36 426Z"/>
<path class="iso" d="M1069.36 426V420.4M1074.56 425.4V419.8"/>
<path class="isow" d="M1067.54 418.8C1067.54 415 1070.2 411.5 1071.7 411.5C1073.2 411.5 1075.86 414.5 1075.86 418.2"/>
<path class="iso" style="stroke-width:1.1" d="M1067.54 418.6Q1071.7 421 1075.86 418"/>
<path class="isow" d="M1055.2 435.3V430.5L1058.06 431.9L1063.26 431.3L1065.6 429.5V434.5L1063.26 436.9L1058.06 437.5Z"/>
<path class="iso" d="M1058.06 437.5V431.9M1063.26 436.9V431.3"/>
<path class="isow" d="M1056.24 430.3C1056.24 426.5 1058.9 423 1060.4 423C1061.9 423 1064.56 426 1064.56 429.7"/>
<path class="iso" style="stroke-width:1.1" d="M1056.24 430.1Q1060.4 432.5 1064.56 429.5"/>
<path class="isow" d="M1099.8 434.8V430L1102.66 431.4L1107.86 430.8L1110.2 429V434L1107.86 436.4L1102.66 437Z"/>
<path class="iso" d="M1102.66 437V431.4M1107.86 436.4V430.8"/>
<path class="isow" d="M1100.84 429.8C1100.84 426 1103.5 422.5 1105 422.5C1106.5 422.5 1109.16 425.5 1109.16 429.2"/>
<path class="iso" style="stroke-width:1.1" d="M1100.84 429.6Q1105 432 1109.16 429"/>
<path class="isow" d="M1072.1 437.8V433L1074.96 434.4L1080.16 433.8L1082.5 432V437L1080.16 439.4L1074.96 440Z"/>
<path class="iso" d="M1074.96 440V434.4M1080.16 439.4V433.8"/>
<path class="isow" d="M1073.14 432.8C1073.14 429 1075.8 425.5 1077.3 425.5C1078.8 425.5 1081.46 428.5 1081.46 432.2"/>
<path class="iso" style="stroke-width:1.1" d="M1073.14 432.6Q1077.3 435 1081.46 432"/>
<path class="isow" d="M1088.4 443.8V439L1091.26 440.4L1096.46 439.8L1098.8 438V443L1096.46 445.4L1091.26 446Z"/>
<path class="iso" d="M1091.26 446V440.4M1096.46 445.4V439.8"/>
<path class="isow" d="M1089.44 438.8C1089.44 435 1092.1 431.5 1093.6 431.5C1095.1 431.5 1097.76 434.5 1097.76 438.2"/>
<path class="iso" style="stroke-width:1.1" d="M1089.44 438.6Q1093.6 441 1097.76 438"/>
<path class="isow" d="M1116.1 441.3V436.5L1118.96 437.9L1124.16 437.3L1126.5 435.5V440.5L1124.16 442.9L1118.96 443.5Z"/>
<path class="iso" d="M1118.96 443.5V437.9M1124.16 442.9V437.3"/>
<path class="isow" d="M1117.14 436.3C1117.14 432.5 1119.8 429 1121.3 429C1122.8 429 1125.46 432 1125.46 435.7"/>
<path class="iso" style="stroke-width:1.1" d="M1117.14 436.1Q1121.3 438.5 1125.46 435.5"/>
<path class="isow" d="M1104.8 450.8V446L1107.66 447.4L1112.86 446.8L1115.2 445V450L1112.86 452.4L1107.66 453Z"/>
<path class="iso" d="M1107.66 453V447.4M1112.86 452.4V446.8"/>
<path class="isow" d="M1105.84 445.8C1105.84 442 1108.5 438.5 1110 438.5C1111.5 438.5 1114.16 441.5 1114.16 445.2"/>
<path class="iso" style="stroke-width:1.1" d="M1105.84 445.6Q1110 448 1114.16 445"/>
<path class="isow" d="M1121.1 446.3V441.5L1123.96 442.9L1129.16 442.3L1131.5 440.5V445.5L1129.16 447.9L1123.96 448.5Z"/>
<path class="iso" d="M1123.96 448.5V442.9M1129.16 447.9V442.3"/>
<path class="isow" d="M1122.14 441.3C1122.14 437.5 1124.8 434 1126.3 434C1127.8 434 1130.46 437 1130.46 440.7"/>
<path class="iso" style="stroke-width:1.1" d="M1122.14 441.1Q1126.3 443.5 1130.46 440.5"/>
<path class="isow" d="M1085.5 431V420.5H1084.7V411H1085.8V396Q1085.8 392.2 1091.3 392.2Q1096.8 392.2 1096.8 396V411H1097.9V420.5H1097.2V434Q1091 437 1085.5 431Z"/>
<path class="iso" d="M1085.8 396Q1091 399.5 1096.8 396M1084.7 411Q1091 414.5 1097.9 411M1084.7 416Q1091 419.5 1097.9 416M1084.7 420.5Q1091 424 1097.9 420.5M1085.8 403Q1091 406 1096.8 403M1085.8 407Q1091 410 1096.8 407M1089 413.5V422.6M1094 413.2V422.3"/>
<ellipse class="iso" cx="1091.3" cy="395.6" rx="3.4" ry="1.8"/>
<circle class="iso" style="stroke-width:2" cx="1084.5" cy="430.5" r="2.6"/>
<circle class="iso" cx="1087" cy="428.5" r="3.6"/>
<path class="iso" d="M1114.4 448.4L1114.4 441.2L1146 452"/>
<path class="iso" d="M1114.4 448.4L1142 458"/>
<path class="isow" d="M1137 406.5V436Q1145 442 1154 437.5V406.5"/>
<ellipse class="isow" cx="1145.5" cy="406.5" rx="8.5" ry="5"/>
<path class="iso" d="M1138 409Q1146 417.5 1153.8 408M1137 416.5Q1145.5 421 1154 415.5"/>
<path class="iso" style="stroke-width:1.6" d="M1139 438Q1146 442.5 1153 438.5"/>
<path class="isow" d="M1133.5 424.5L1139.5 428L1137.5 433L1132.5 432.5Z"/>
<ellipse class="iso" style="stroke-width:2.2" cx="1137.3" cy="426.2" rx="2.6" ry="3.3" transform="rotate(35 1137.3 426.2)"/>
<path class="iso" d="M1133 433Q1134.5 441 1140 445Q1144.5 448.5 1143.5 452.5M1136.5 443Q1138 447 1142 449"/>
<path class="isow" d="M1154.6 408.5L1175.3 418.5L1199.8 397.8L1179.5 388.5Z"/>
<path class="isow" d="M1154.6 408.5L1154.6 441L1175.3 450.5L1175.3 418.5Z"/>
<path class="isow" d="M1175.3 418.5L1175.3 450.5L1199.8 426L1199.8 397.8Z"/>
<path class="iso" d="M1154.6 411.8L1175.3 421.8L1199.8 401"/>
<path class="iso" d="M1150 439.5L1168.7 449L1202 422.2L1199.8 421.2"/>
<path class="iso" d="M1142.6 436L1164.3 447.5L1164.3 487.5L1143 478"/>
<path class="iso" d="M1164.3 447.5L1168.7 449L1168.7 489.6L1164.3 487.5"/>
<path class="iso" d="M1202 422.2L1202 458.4L1168.7 489.6"/>
<path class="iso" d="M1142.6 436L1150 430.5"/>
<path class="iso" d="M1142.6 436L1142.6 452"/>
<path class="iso" d="M1139 452.5L1160 461L1160 476"/>
<path class="iso" d="M1139 452.5L1146 447"/>
<ellipse class="isow" cx="1153.5" cy="468" rx="5.2" ry="9.2" transform="rotate(-22 1153.5 468)"/>
<ellipse class="iso" cx="1152.3" cy="468.5" rx="4" ry="7.6" transform="rotate(-22 1152.3 468.5)"/>
<ellipse class="isow" cx="1144.5" cy="452.5" rx="3.2" ry="4" transform="rotate(30 1144.5 452.5)"/>
<ellipse class="isow" cx="1148" cy="447.5" rx="2.6" ry="3.4" transform="rotate(30 1148 447.5)"/>
<ellipse class="isow" cx="1157" cy="484.5" rx="3" ry="3.8" transform="rotate(30 1157 484.5)"/>
<path class="iso" d="M1153 481.5L1156 479.5M1154.5 487.5L1158.5 488.5"/>
<ellipse class="isow" cx="1154.8" cy="485.5" rx="2.6" ry="3.4" transform="rotate(30 1154.8 485.5)"/>
<path class="isow" d="M1123.5 478.5L1146.5 461.5Q1153.5 465 1151 475L1134.5 496.5Z"/>
<ellipse class="isow" cx="1128.3" cy="487.5" rx="8.6" ry="10.4" transform="rotate(-28 1128.3 487.5)"/>
<path class="iso" d="M1120.5 485.5L1133.5 491.5V497"/>
<path class="isow" d="M1134.3 469.2v3.4h3.6v-3.4"/>
<rect class="f" style="stroke:#000;stroke-width:.6" x="1133.9" y="466.6" width="4.4" height="3"/>
<path class="iso" d="M1146.5 461.5Q1150 459 1156 460.5"/>
<path class="isow" d="M1172.3 482.3L1172.3 503L1179.6 506L1179.6 485L1172.3 482.3L1205.7 459.9L1209.3 461.2L1179.6 485Z"/>
<path class="iso" d="M1179.6 506L1196 493"/>
<path class="iso" d="M1209.3 461.2L1209.3 473"/>
<path class="iso" d="M1143 478L1172.3 491.5"/>
<path class="iso" d="M1160 489L1160 496L1172.3 501.5"/>
<path class="isow" d="M1181.34 495.74V491.9L1183.63 493.02L1187.79 492.54L1189.66 491.1V495.1L1187.79 497.02L1183.63 497.5Z"/>
<path class="iso" d="M1183.63 497.5V493.02M1187.79 497.02V492.54"/>
<path class="isow" d="M1182.17 491.74C1182.17 488.7 1184.3 485.9 1185.5 485.9C1186.7 485.9 1188.83 488.3 1188.83 491.26"/>
<path class="iso" style="stroke-width:1.1" d="M1182.17 491.58Q1185.5 493.5 1188.83 491.1"/>
<path class="isow" d="M1190 482Q1192 474 1198.5 471.5L1216 476.5L1222.5 512L1196 503Q1188.5 495 1190 482Z"/>
<path class="iso" d="M1198.5 471.5Q1203 468.5 1208 471"/>
<path class="isow" d="M1199.5 480Q1203 472 1212 475.5Q1204 484 1206.5 505.5L1198.5 502.5Q1196 490 1199.5 480Z"/>
<ellipse class="isow" cx="1221.5" cy="494" rx="7.6" ry="17" transform="rotate(-14 1221.5 494)"/>
<ellipse class="iso" style="stroke-width:1.4" cx="1223.3" cy="494.6" rx="4.6" ry="9.6" transform="rotate(-14 1223.3 494.6)"/>
<ellipse class="iso" cx="1224.5" cy="495" rx="2.7" ry="5.2" transform="rotate(-14 1224.5 495)"/>
<path class="isow" d="M1225 492.5L1229.5 493.2Q1232 494.5 1231.2 497L1226.5 498.5Z"/>
<ellipse class="iso" cx="1229.6" cy="495.5" rx="1.8" ry="2.4"/>
<path class="isow" d="M1214.3 479.5V456Q1214.3 452.6 1217.8 452.6Q1221.3 452.6 1221.3 456V481.5Z"/>
<path class="iso" d="M1214.3 469.5Q1217.8 471.2 1221.3 469.5M1214.3 457Q1217.8 458.6 1221.3 457"/>
<path class="isow" d="M1214.8 508.5V528.5Q1214.8 531.8 1218.3 531.8Q1221.8 531.8 1221.8 528.5V510.5"/>
<path class="iso" d="M1214.8 517Q1218.3 518.6 1221.8 517M1214.8 527Q1218.3 528.6 1221.8 527"/>
<path class="isow" d="M1165.5 397V404Q1176 410 1186.5 403.5V396Z"/>
<path class="isow" d="M1162.5 370V392.5Q1163 397 1168.5 399Q1177 402 1186 398.5Q1190.5 396.5 1190.5 392V372Z"/>
<path class="isow" d="M1163.5 377L1141 369.5Q1136 367 1137.5 363.5Q1139 360.5 1144 361.5L1166 369Z"/>
<path class="iso" d="M1151.5 373Q1150.5 368.5 1153.5 364.7M1140 369Q1138.7 365 1141.5 361.4"/>
<path class="isow" d="M1187.5 379.5L1210 393.5Q1214.5 395.5 1215.8 391.5Q1216.8 388.5 1213 386.3L1190 374Z"/>
<path class="iso" d="M1197.5 385.5Q1197.5 381.5 1200 379.5M1209.5 393Q1209.3 388.5 1212.3 386"/>
<ellipse class="isow" cx="1176.5" cy="371.5" rx="14" ry="7"/>
<ellipse class="iso" style="stroke-width:1.3" cx="1176.5" cy="371.2" rx="9" ry="4.4"/>
<ellipse class="iso" cx="1176.5" cy="371" rx="6" ry="3"/>
<path class="iso" d="M1173 369.5L1175.3 363.3L1179.3 369.7M1173 369.5V371.5M1179.3 369.7V371.7M1176 369V372.5"/>
<path class="isow" d="M1168.56 410.41V405.85L1171.28 407.18L1176.22 406.61L1178.44 404.9V409.65L1176.22 411.93L1171.28 412.5Z"/>
<path class="iso" d="M1171.28 412.5V407.18M1176.22 411.93V406.61"/>
<path class="isow" d="M1169.55 405.66C1169.55 402.05 1172.08 398.725 1173.5 398.725C1174.92 398.725 1177.45 401.575 1177.45 405.09"/>
<path class="iso" style="stroke-width:1.1" d="M1169.55 405.47Q1173.5 407.75 1177.45 404.9"/>
</g>
<g id="notes">
<text class="tn" x="1093.2" y="242.3" font-size="5.6" text-anchor="start" textLength="72.7" lengthAdjust="spacingAndGlyphs">1. *Размеры для справок.</text>
<text class="tn" x="1093.2" y="251.2" font-size="5.6" text-anchor="start" textLength="165.4" lengthAdjust="spacingAndGlyphs">2. Неуказанные общие допуски размеров ГОСТ30893.1:</text>
<text class="tn" x="1112.4" y="259.4" font-size="5.6" text-anchor="start" textLength="50.5" lengthAdjust="spacingAndGlyphs">H14, h14, ±IT14/2.</text>
<text class="tn" x="1093.2" y="268.3" font-size="5.6" text-anchor="start" textLength="167.6" lengthAdjust="spacingAndGlyphs">3. Общие допуски формы и расположения поверхностей</text>
<text class="tn" x="1107.3" y="276.4" font-size="5.6" text-anchor="start" textLength="46.7" lengthAdjust="spacingAndGlyphs">ГОСТ30893.2 - К.</text>
</g>
<g id="logo">
<path class="lg" d="M1199.7 786.5C1197 783.5 1195.8 780.5 1198 778.5C1199.3 777.3 1201 777.6 1201.6 776.4C1199.5 772.5 1202.5 768.8 1207 769.3C1207.3 764.8 1213.5 762 1218 764.2C1220.5 759.2 1229 758 1232.5 762.6C1236 760.8 1241 761.5 1243 764C1246 762.6 1250.5 763 1252.3 765.6C1254.8 768.2 1252.8 771.3 1249.3 771.6C1248.8 774.6 1244.5 775.6 1241.6 774.4C1239.6 778 1234.6 778.6 1231.8 776.9C1229 781.6 1221.5 782.4 1218.3 778.2C1215 776 1211 777.6 1208.6 779.5C1205.5 780.2 1202.8 781.4 1202.4 783.5L1202.3 786.3"/>
<text x="1155.3" y="819" font-size="31" textLength="41" lengthAdjust="spacingAndGlyphs" style="font-family:'Liberation Sans',sans-serif;font-style:normal;font-weight:bold;fill:#f3a558">Ads</text>
<text x="1196.6" y="818.6" font-size="46" textLength="13.5" lengthAdjust="spacingAndGlyphs" style="font-family:'Liberation Serif',serif;font-style:normal;font-weight:bold;fill:#3c3c3c">F</text>
<text x="1209.6" y="818.6" font-size="38" textLength="68" lengthAdjust="spacingAndGlyphs" style="font-family:'Liberation Serif',serif;font-style:normal;font-weight:bold;fill:#3c3c3c">actory</text>
<path class="ul" d="M1163.2 822.9L1264.2 822.9"/>
</g>
</svg>
</body></html>
